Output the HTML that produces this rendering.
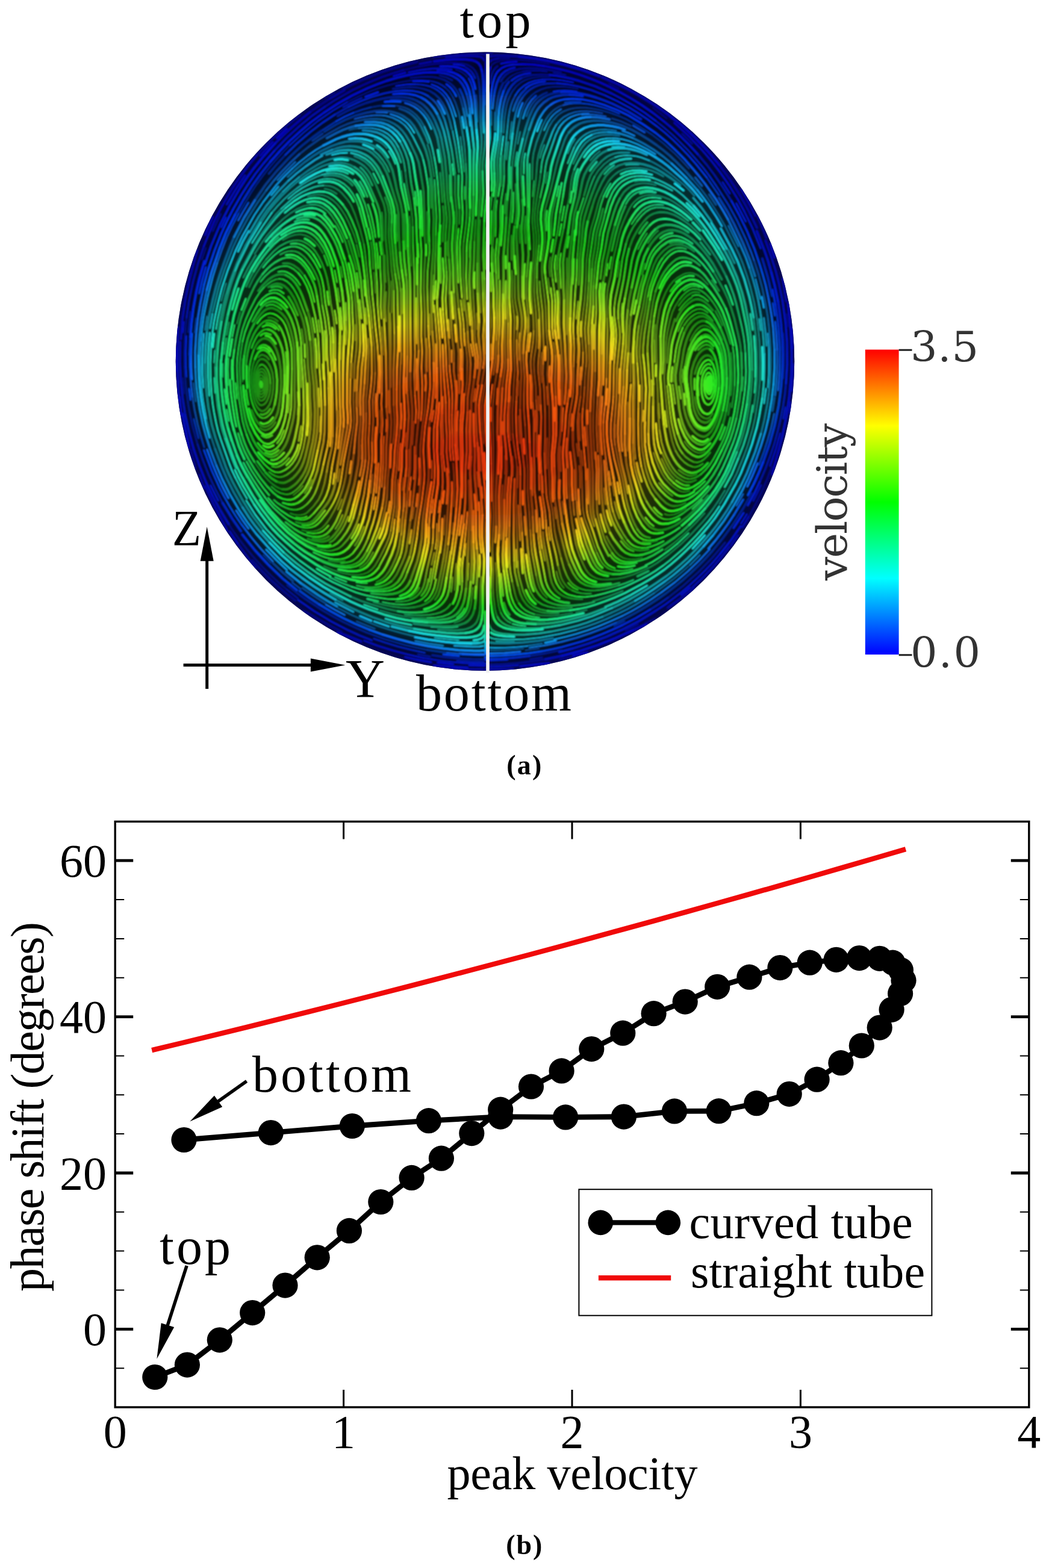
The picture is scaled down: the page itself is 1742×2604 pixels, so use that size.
<!DOCTYPE html>
<html lang="en"><head><meta charset="utf-8"><title>Secondary flow and phase shift in a curved tube</title>
<style>html,body{margin:0;padding:0;background:#fff;overflow:hidden}svg{display:block}</style></head>
<body>
<svg width="1742" height="2604" viewBox="0 0 1742 2604">
<rect width="1742" height="2604" fill="#fff"/>
<defs><clipPath id="disc"><circle cx="805.5" cy="600.2" r="513.7"/></clipPath>
<filter id="soft" filterUnits="userSpaceOnUse" x="284" y="78" width="1043" height="1043"><feGaussianBlur stdDeviation="1.00"/></filter>
<filter id="smooth" filterUnits="userSpaceOnUse" x="274" y="68" width="1063" height="1063"><feGaussianBlur stdDeviation="5"/></filter>
<radialGradient id="wall" gradientUnits="userSpaceOnUse" cx="805.5" cy="600.2" r="513.7"><stop offset="0.95" stop-color="#0a0e9a" stop-opacity="0"/><stop offset="0.98" stop-color="#0a0e9a" stop-opacity="0.2"/><stop offset="1" stop-color="#0a0e9a" stop-opacity="0.45"/></radialGradient>
<mask id="lic" maskUnits="userSpaceOnUse" x="284" y="78" width="1043" height="1043">
<g filter="url(#soft)"><rect x="284" y="78" width="1043" height="1043" fill="#333333"/>
<g transform="scale(0.25)" fill="none" stroke-linecap="round" stroke-linejoin="round">
<path d="M3094 1088l-6-88-5-56-24-142-12-55-20-61-20-43-21-34-28-28M2848 536l-40-4-40 0-48 4-47 8-47 10-54 14-54 17-52 19M2466 604l-81 35-79 39M1924 965l-45 46-43 47-52 61-40 51-37 51-40 60-82 138M1370 2781l23 93 35 107M3091 2626l11-95 2-128-3-48-10-87-3-56M2819 842l-24-42-31-37-18-15-19-14-21-12-23-9-46-11-56-3-64 4-55 10M2742 1507l-2-48-7-63-10-63-16-79M2707 1254l-6-39-9-80M2383 851l-32 4-31 8M2152 3761l59 26 61 19 55 11 32 2 24 0M2383 3819l31-5 30-12 25-19 21-24 36-62 39-79 21-52 10-39M2492 2475l-5-168-14-127M2417 1623l-26-101-33-98-22-52-11-21-18-26M2307 1325l-37-43-18-16-19-13-22-11-23-7-40-3M1868 1387l-33 35-35 44-66 91-39 60M1695 1617l-80 148-24 51-20 52-21 60-19 70-19 77-15 71M1497 2146l-20 126-13 120M1535 2928l35 98M1770 3371l40 50 49 53 46 44 43 36 45 33 41 25 51 24 45 15M2058 1360l-39 9-44 19-47 29-50 40-58 56-42 48-38 51-48 74M2006 3521l31 8 24 2 23-2 24-5 21-10 13-10 17-17 15-19 22-33 27-49 17-36 15-37 18-53 13-47 10-47 7-47M2303 3119l47-292 2-48-5-128M2347 2651l5-136M1768 1724l-34 45-31 47-24 41-24 51M1929 3410l23 8 24 4 23-1 16-3 15-6 13-10 39-39 34-45 20-43 19-62 15-78M1690 3068l50 73 20 24 27 30 24 21 19 14 21 12 23 8M3304 4098l-9-22-7-31-11-88-3-56 2-111-4-72M3272 3718l-2-72 7-152M3277 3494l1-80-4-120 3-176M3277 3118l0-136-3-144M3274 2838l-2-88 2-64 12-127 15-87M3400 1261l1-120M3401 1141l3-64 8-63 29-166 17-78M3458 770l15-46 16-36 17-27 27-29 25-20 36-18 38-12 40-6M3672 576l32-1 48 1 39 5 48 8M3802 4073l-79 13-63 5M3660 4091l-64-3-48-8M3447 4007l-15-28-10-30-20-86M3439 3729l-8-304M3431 3425l-3-80 2-104M3430 3241l4-120-2-40-5-40M3406 2883l-3-144 6-96 3-80 7-104-5-136M3414 2323l0-72 4-120-3-39-10-80-4-40 2-104-3-71M3433 2259l7-95 1-40-4-40-13-71-4-40-1-144M3633 3970l-28-29-20-34-13-38-10-47M3522 3521l-6-112-5-63M3511 3346l-6-80 1-144-11-144M3495 2978l-7-151M3470 1327l-9-160 0-48 2-40 4-32 8-39 21-85 18-62M3545 2197l-3-88-10-112-2-48 2-96 6-88M3538 1765l6-71 2-88-2-48-8-80 0-32 10-127M3546 1319l14-128M3560 1191l8-111 8-48M3576 1032l18-61 51-126 25-41 32-36 19-15 20-12 30-12 23-7 31-5 32-2 32 0 40 5M3929 720l55 10 62 17 60 21 51 22M4157 790l85 47 87 56 76 58 78 69M4483 1020l45 46 49 53M3561 2659l-2-88-10-96-3-56 2-39 13-79 3-40 1-72-5-112M3560 2077l-10-104-2-40 3-136 9-119 3-72-1-48-8-64M3554 1494l-3-48 3-47 10-72 22-134 6-48M3580 1630l0-64-10-88-1-40 5-55 14-71M3802 3922l-14-8-19-14-16-18-13-20-11-22-7-23-16-62M3727 3707l-32-124-11-55-13-128-17-94-3-48M3651 3258l-1-64-7-152M3643 3042l8-151-2-176-9-152M3640 2563l-4-80 6-96 0-48-13-135-4-152-7-72M3618 1980l-16-135-3-56 2-48 15-94 5-48 0-48-5-56M3616 1495l-2-48 5-48 10-38 29-100M3658 1261l38-164 13-46 42-121 14-29 13-20M4600 1189l57 67 38 51 32 47 47 74M4774 1428l40 69 65 129M4879 1626l31 65 24 59 26 76 23 76M4983 1902l27 109M5010 2011l20 118 15 143 4 128-2 136M5047 2536l-9 96-22 142-18 78-32 108M4966 2960l-24 67-49 119-32 64-43 77M4818 3287l-38 61M3716 2068l2-48 0-40-17-191M3771 1364l10-47 13-112 8-39 12-38M4815 3257l-42 68-36 53-33 45-36 43M4668 3466l-88 94-57 55-80 67-77 57M4366 3739l-48 29-43 21-67 27-61 19-47 9-64 6-40-1-23-4-16-5M3957 3840l-21-11-19-14-11-12-14-19-18-36-25-59-13-38-11-38M3825 3613l-25-142-7-56-6-55-7-144M3780 3216l-1-88-6-80M3773 3048l-3-56 2-64M3949 1173l26-41 38-41 38-29 36-17M4312 1066l29 14 42 24 39 27 39 29 86 71 34 34 32 36M3965 3672l-17-44-39-114M3909 3514l-25-67-11-55-3-40-7-224-15-135M3856 2635l5-112M3873 2340l-9-128 0-40 6-72 13-103 10-160M3893 1837l1-80 3-40 21-158 10-47 23-77M3951 1435l22-85 13-38 27-58 28-48M4041 1206l15-19 16-17 18-16 20-14M4110 1140l29-13 39-10 40-3 40 3 39 7 38 12 30 13 42 23M3883 2571l3-72 7-64M3950 3050l-10-191 0-72 2-64M3942 2723l3-88 6-88 2-80M4033 2115l-3-104 4-72 5-31 18-78 15-103 40-171M4112 1556l12-39 17-45 26-58 14-29 17-27 16-18 18-16 13-9 22-10 23-7 23-3 32 1 32 5 38 11 30 12 28 16M4473 1340l52 36 50 41 45 45 46 55M4381 2858l-9-119-3-136-4-64M4365 2539l-3-48 1-80-2-72M4361 2339l-1-112 5-72 15-94 21-69M4401 1992l22-52 24-41 25-31 25-21 41-24 15-6 16-3 16-1 16 2 29 11M4630 1826l14 8 19 15 39 41M4488 2995l-12-30-12-38-21-102-14-111-15-167-2-40M4412 2507l8-112 4-120 8-63 19-86 16-54 21-43 26-40M1239 2110l-7 72-6 88-2 80 1 80M4217 1207l31-6 32-1 32 3 39 9M4585 2263l18-36 17-27 16-18 19-14 15-5 16 0 23 9 12 10M3535 1192l3-128 6-47 19-70 42-112 22-43 18-26 16-18 18-17 19-13 21-12 23-8M3654 1950l-15-102M4179 1246l20-12 15-6 23-6 24-4 24 0 24 2 47 10M4927 2344l4 104M2664 2419l3-72M3345 882l6-96 11-71 7-31 11-30 13-29 12-21M3405 604l25-31 31-26 21-12 22-9 38-10M3542 516l48-6 64 1M4572 3763l-54 47-50 41-123 89M3213 2946l-12-175-1-72 4-40 38-213M3242 2446l8-63 3-112 7-104 0-40-2-48M3258 2079l-10-223-10-136 1-40 7-88M1224 2433l10 135 17 127 27 134 34 123M2221 616l-65 32M2244 4039l93 47 103 45M2440 4131l74 29 69 22 85 24 85 21M2145 1681l-24-42-31-36-31-25-29-14-31-7-16 0-24 3-38 12-43 22M2368 1612l-14-46-15-37-22-51-22-43M2295 1435l-30-47-25-31-29-27-34-22-30-11-32-4-32 3-38 9M1518 3481l40 60 43 58 44 56 52 61 49 53 51 51 52 49 55 47M3258 448l13-20 20-14 30-10 32-5 48-2 48 1 55 5 64 8M3568 411l79 14M2523 4055l77 22 78 17 72 8 88 3M3354 548l21-25 11-10 20-14 29-13 39-11M3618 4133l-64 1-56-5M3476 4309l-119 9-72 2-48-1M2360 2261l0-104M3159 2278l-5-48 1-96-6-64M3149 2070l-8-159M3141 1911l-1-56 2-56M3192 2077l-8-208-2-184 3-160M3185 1525l3-64M3327 4071l-8-22-6-23-8-56-4-47-2-96-6-88M2673 1216l-9-80M3066 973l-8-64M4680 3409l-59 65-80 79-61 52-64 48M5128 3100l-32 82-35 81-46 93-42 77M1366 1648l-26 75M2193 3941l84 46M3018 4137l30-10 28-16 22-22 13-21 12-29 7-31 10-104M2884 1173l-19-119-11-47-14-46M3599 2541l-6-47-1-40 1-48 6-64M2601 2076l2-144-4-64M4581 3261l-23 6-16 1-16-3-15-6-27-17-25-20-22-23-21-24M4416 3175l-17-27-21-43-21-52-15-46M1950 3288l37-31 25-30M3014 3365l5-136-4-88-5-64M2494 1946l-3-64-6-72M4188 2538l2-192M2547 2357l-11-184M4265 3707l-40 8-32 2-31-4-23-7M4139 3706l-27-17-22-23-40-60-22-43M2906 2981l0-120M3655 1836l-4-32-2-31 2-32 6-32M2245 3385l26-67M2263 2389l2-88 5-72M2732 1766l-7-112-1-152-4-64M4065 787l60 19 66 30M4339 717l89 68M1612 2384l-3 64 2 88M4081 3292l-14-87M4351 4109l-64 32M3921 1066l32-36 31-25M4557 3378l-49 28-30 12-31 4-16-2-15-5M2688 3367l2-88M3745 3905l-16-19-15-28-11-30-7-31M1213 2511l10 103M1596 2073l-22 77M3454 1615l-4-64 3-56M1749 3687l50 52M2571 985l-16-18-18-16-20-13-29-14M3021 3920l3-40 2-88 5-48M1302 2114l-10 95M1846 2134l-19-14-15-7-15-4-16 0M3102 509l-11-12-19-15-21-11-23-8M1501 1883l-32 116M2236 1288l-20-13-21-11-23-7-16-3M2400 3051l2-40-1-56M3579 4308l-87 12M4101 1839l13-103M2948 3553l2-72 4-56M3354 3148l2-48-1-72M3897 4052l-70 16M3439 955l16-79M4682 2997l-14 8-15 4-16-1-15-5-21-12-19-15-21-23-13-20M4046 557l64 32M1867 1520l-36 31-29 28M4851 2678l-14 79M3624 1216l11-71" stroke="#999999" stroke-width="8.8"/>
<path d="M3079 1614l15-111 5-56M3099 1447l1-64-4-96 3-112-5-87M2958 581l-20-14-28-15-31-10-31-6M2986 2428l-1-96-12-136M2958 1613l2-56 6-79 1-32-14-136-4-56M2890 3727l20-110 4-40 1-48M2462 713l-54 15-60 21M2233 806l-101 65M2692 1135l-7-47-7-31-13-38-20-44M2596 3527l25-166 3-160 12-95M2636 3106l4-112 13-103 6-96 1-40-4-88 0-120M2656 2547l9-240-1-144M2664 2163l-2-216-4-48-6-47M2139 1161l-38 14-43 21-48 28-39 28-44 35-41 38-44 46-37 43M2471 2938l8-144-3-136 12-111 4-72M2473 2180l-10-120-13-95-6-96-19-191-8-55M1640 3170l66 109 64 92M2130 3651l40 7 24 1 15-2 31-10 14-7 19-15 37-42 31-46 27-58 20-61M2321 1699l-27-92-18-45-36-71-39-60-15-19-17-17-20-14-13-8-15-7-23-6-16-1-24 1M2225 2195l-10-87-18-95-13-103-12-63-13-46-20-52-21-43-21-34M2097 1672l-15-19-17-16-19-15-21-12-22-9-16-3-16-1-24 2-23 5-22 8-43 23-19 15-24 21-48 53M2170 3135l11-63 22-94 5-39 2-40M2141 2030l-13-112-13-54-11-30-18-36-20-34-24-33-21-24-18-15-20-14-23-8-23-2-24 2-23 7-29 14M1855 1852l-23 4-29 13-26 19-24 21M1611 2269l-12 79-6 64 0 56 5 104M1803 3233l31 26 28 16 31 8 16 1 15-3 15-6 13-9 19-15 17-17 25-31 27-49M1788 3136l19 14 21 12 22 7 16 0 16-4 22-10 19-14 19-15 16-18 14-20 12-20 13-30 18-61 16-86M3375 2148l-6-168 5-128-3-120 1-72M3372 1660l4-72 18-191 6-136M3636 4058l-47-10-37-16-19-14-12-11-11-12-13-20-11-21-12-30-23-84-9-48-3-63M3427 3041l-15-103-6-55M3800 4036l-56 4-56-2-47-9-38-13-34-21-22-23-21-34-15-37M3468 3537l-13-192M3562 3822l-29-157-5-56-6-88M3488 2827l-8-104 0-96 4-120-7-112-1-48M3538 2675l-2-120-10-112-1-40 3-39 13-95 4-72M3565 3034l0-136 4-119-8-120M3695 828l26-30 24-21 35-19 38-13 39-6 40-1 48 4 55 10M3591 2691l-4-112-12-112 0-40 3-47M3578 2380l9-80 1-64-6-160-14-135-2-96M3926 3943l-32 1-32-3-31-7-29-12M3617 3011l4-104 0-160-7-160-9-104 2-64M3612 2323l-9-263-14-119-5-72M4110 3889l-85 23-40 7-31 3-32 1-32-3-24-6-22-8-21-12-19-14-16-18-13-20-11-21-18-45-19-69M3671 1854l-8-64 2-48 40-212 16-119M3701 1789l-1-40 5-40 16-86 24-110M3772 2928l11-167 19-110 5-40 3-64 0-112M3833 1724l11-119 9-128 5-40 13-46 51-152 14-37 13-29M4084 3789l-16-3-22-8-14-8-19-15-11-12-13-20-24-51M3848 2993l-9-96-3-96 4-55 16-111M3871 2714l8-79 4-64M3893 2435l2-32 0-40-3-63-6-80-1-40 5-56 12-119 9-136M3943 1900l12-152 18-102 9-80M4169 3589l-27-39-32-56-20-43-18-53M4029 2515l6-320-2-80M4158 1620l12-38 16-37 19-35 27-40M4295 3331l-18-36-20-52-23-69-15-54-6-31-5-40-4-56 0-48M4221 3051l-6-80-1-192M4655 3151l-20 14-21 10-23 6-16 1-24-6-21-11-20-13-24-21-19-26-17-27-25-50-15-37-16-54-13-79M4669 3081l-28 16-23 6-16-2-30-12M4572 3089l-26-18-23-23-19-25-16-28M4514 1989l20-25 23-22 20-14 22-8 16-1 24 4 21 10 26 19 23 23 25 31 22 33 20 35 17 36 20 52 21 61 18 61M4718 3005l-20 25-23 22-20 13-23 7-24-3-28-15-26-19-21-24M1992 766l-87 69-73 64-67 68-59 65M4505 2201l18-44 20-35 26-30 31-25 29-13 24-2 23 7 26 18M3050 1145l-23-167-21-110M3970 3001l-8-152 1-72 7-143M2886 1857l3-112M2889 1745l6-104 0-80M3349 1168l-1-72 2-39 28-279 8-47 8-31 11-30 18-36M2228 3513l25-41 22-51M1278 2636l14 87 20 94 18 69 26 85M2996 3931l6-40 4-56M3224 382l4-16-4-7 15-3 32-1M4345 3940l-67 43-55 33-56 31-57 28-88 40-67 27-60 21-69 21M3246 1592l6-176 18-134M3639 2688l-7-120M1312 2952l33 98 41 105 44 94 48 92M2629 3997l32 0 24-3 23-4 23-8 15-7 20-13 17-16 15-19 14-29 9-31 16-86 31-133 6-39M1904 3916l75 60M3234 2244l7-112-6-128M2868 3179l2-55-3-64M3474 475l31-4 40-2 40 1 48 5M3415 4262l-64 0-56-2M3601 4276l-95 14M3393 4138l-21-11-18-16-15-18-12-22M3083 1140l-17-167M3216 364l-16-4-32-2-120 5M3048 363l-167 16M4085 2908l-1-40 2-48M2690 2964l8-88M4536 2540l-4-39 4-48M3815 3423l-4-40-3-48M4542 2164l23-33 22-23 26-19 14-7 16-4 24 2 22 9 25 19 21 24M2274 1842l-12-71M2190 3604l21-12 11-10 36-44 18-26 15-28 22-52M4839 1500l67 136M3813 981l15-28 15-19 16-18 18-15 20-13 22-11 23-7 23-6M3965 864l24-3 32-1 40 3 31 5M2879 1899l3-72M3677 483l79 15M2938 3240l2-40-1-47M2585 1141l-16-37-26-40-31-37-30-26M1941 3870l57 44M2638 1602l-4-72-1-104M2688 4082l56 4 56 1 56-3 39-7 31-9 28-15 19-15 21-25M3018 1486l0-40-2-39M2650 3534l6-87M3287 865l0-64 2-56M4512 2060l19-26 21-24 24-22 20-13M3239 922l-2-72M4238 1655l25-50 34-54M4649 3688l-68 68M3538 1305l9-103" stroke="#bdbdbd" stroke-width="8.8"/>
<path d="M2306 678l-96 57-99 69-93 75-94 86M1585 1419l-45 85-34 72-32 82-32 90M1335 2264l-4 72-1 64 5 136 6 64 8 63 21 118M2966 1805l-8-104 0-88M2542 4000l47 9 39 5 40 2 32-1 24-4 31-8 29-12 21-13 17-16 11-12 12-21 10-22 10-38 25-142M2927 3361l12-111 3-48-3-72-9-111M2885 1046l-13-62-13-46-14-38-26-58M2905 2443l-2-168-18-247M2190 3835l72 34 75 29M2658 3886l11-12 14-20 11-21 11-30M2845 2163l-7-256 2-103 13-136-1-64M2812 1063l-9-30-13-30-46-93-29-47-26-31-19-15-19-14-43-21-47-13-31-3-24-1M2506 765l-32 2-40 5-39 8-39 10M2757 2627l-5-136 5-152-3-96-1-208M2753 2035l0-200-10-216-1-112M2645 975l-20-34-26-31-24-21-28-16-29-12-47-10-40-2-48 2M2620 2227l-4-184 0-120M2264 3741l31-3 32-7 21-10 19-15 16-18 27-40 18-35 16-37M2536 2611l2-136-2-96-6-96-10-111M2446 1433l-22-77-31-74-27-48-15-19-17-17-26-19-21-12-22-9-23-5-24-3-24 0-24 3-31 8M2386 1382l-20-53-23-42-28-38-30-27-34-20-38-12-40-2-24 2-23 6M2126 1196l-31 10-29 12-57 30-46 31-49 41M2148 1232l-31 3-31 8-45 18-36 17-34 21-32 24-71 64M1464 2392l-2 56 1 63 5 80 9 80 11 71 14 71 12 46 21 69M1570 3026l32 73 38 71M2388 3418l30-133 25-166M2443 3119l8-71-3-128 6-104M2227 2387l0-144-2-48M1820 3321l24 21 27 17 29 14 22 8 24 5 24 0 23-6 21-11 25-20 22-24 14-19 16-28 15-37 17-53 13-46 12-55M2032 2108l-45-120-17-36-20-35-19-25-24-22-28-15-24-3M1753 1909l-26 31-31 47-36 71-28 66-21 61-13 54-13 71-9 71M1576 2381l-2 48 1 48 5 96 8 80 23 142 12 46 15 46M1981 1814l-30-26-28-15-15-5-16-1-32 4-30 11-34 21-35 32-31 37M2031 2891l6-80 1-88-5-176-13-160M1779 2188l-8-1-16 3-20 13-12 11-15 18-12 21-14 29-11 30M1687 2321l-13 38-10 39-7 39-3 40M1654 2477l1 80 6 48 6 39 8 31 11 30 14 29 13 20 16 17 15 7 16-2 14-7 18-15 10-13 11-21 11-31M4355 802l50 40 60 52 52 50 51 51 53 60 52 61 38 51 46 66M4757 1233l82 128 58 105 61 130 33 82 21 60M3311 2361l0-64 5-72M4694 1178l82 119M3375 2388l-2-104 2-136M3548 4080l-30-11-28-15-24-21-19-26M3402 3863l-12-63-6-64-2-160 2-80M3511 3901l-13-46-11-55-8-80-5-64M3455 3345l2-192M3430 2667l3-88 7-104-7-128 0-88M3588 3664l-12-87-10-192-15-127-1-152M3550 3106l-4-104 1-215-9-112M3592 1145l7-63 11-47 59-157 10-22 16-28M3626 3456l-6-63-20-127-5-136M3566 1845l1-80 13-135M3588 1312l24-109 12-96 8-39 60-173 21-44M3706 3755l-12-63-27-116-7-48-4-48M3656 3480l-6-80-17-86-4-32-11-215-1-56M3607 2419l5-96M4207 3853l-52 21-45 15M3685 1957l-14-103M3745 1513l15-95 11-54M3814 1128l12-29 15-29 29-48 18-26 27-29 19-15 21-12M3810 2435l4-120-3-64M4087 1045l23-7 31-5 24-1 32 2 32 4 31 8 52 20M4202 3779l-31 8-31 4-32 1-24-3M3861 2523l11-119 1-64M3896 3313l-3-128M3911 1869l5-144 25-174 7-31 23-77 21-85 18-53M3941 2035l0-96 2-39M3982 1566l6-31 20-70 13-54M4340 1183l37 15 36 17 35 19 34 21 56 45 69 67M3953 2467l1-72-1-200 8-136-2-112 1-32M4072 3398l-10-39-8-55-37-318-8-88-1-88M4080 2044l8-63 29-133 17-127 24-101M4232 1470l30-37 29-27 21-13 14-7 31-8 40 0 39 7 37 15 49 28M4522 1428l51 39M4911 2101l18 78 12 63 6 48 4 56M4775 3155l-25 42-23 33-24 31-32 36-28 28-30 27-76 58-27 17-22 11-22 8-16 3-24 1-16-2-15-6-21-12M4374 3430l-17-16-22-24-19-25-21-34M4204 2945l1-64-2-216 5-127-2-128M4354 3316l-32-46-21-43-22-60-19-69M4852 2774l-14 54-20 61-22 51-25 50-31 57-25 40-31 37-29 27M4484 2682l-16-127M4560 2518l0-32 3-31 17-79 18-52 12-22 13-20 16-18 18-16 13-7 15-6 16 2 15 7 12 10 16 18M4533 3011l-18-26-17-36-15-46-13-54-10-47-9-64-19-175M1353 1637l-38 114-34 123-26 126-16 110M4351 1212l59 24 56 30M2967 666l-18-27-16-18-24-20-21-13-29-13-31-8-31-5-40-3M2895 1561l4-120-6-104-3-88-4-55M3313 1854l-4-144 10-127M3319 1583l6-80-1-96 2-40 5-48 14-87 4-64M4014 1157l33-35 32-24M3290 1571l3-64 0-96M3293 1411l3-40 5-39M3742 698l39-9 39-4 40 1 48 5 47 9 54 15 53 18 52 21M3826 4184l-108 27-126 24-112 12-103 2M3377 4249l-56-2-40-4-16-4-14-6-12-11M2892 3646l9-64 2-103M1478 2416l0 88M2838 4105l55-2 48-8 37-14 20-13 12-11 16-18 12-21 17-45 12-54 3-56M2994 1339l-5-56-2-120M1870 2055l-26-18-30-13-24 0-22 9M4157 1356l17-28 15-18 18-16 20-13 22-9 31-7 24-2 32 3M4342 2849l-2-128 1-64M4196 1488l22-33 25-31 22-24 26-19 29-13 23-6 32-3 31 3M3838 3918l-22-10-13-8-18-16-11-12M2944 2923l-4-112 1-64M3823 3320l-5-96-1-104M4936 3282l-43 77M4135 2208l-6-112 2-40 4-40M1806 3098l24 5 16-2 15-6 14-8 19-14 27-29M3081 2185l-3-48-10-80-7-63M3578 2315l3-64-3-128M3208 1944l-5-136M2277 2708l-1-216 2-96M3087 3691l7-80M2483 4243l76 26 84 26 93 23 86 19M3865 763l32-3 40 1 48 6 39 7M3771 1085l42-104M3844 1414l32-99M2888 4237l80 9 79 7M3392 1253l2-144M2748 3183l5-64 1-152M2536 3235l10-160 0-112 4-64M3654 3589l-6-39-4-48M4598 1966l23-7 23 2 29 14 31 26M3607 3274l-5-112M5100 2215l7 96 1 72-1 104-6 87M5019 1854l33 132M2178 1764l-25-68M3051 4339l88 5 72 0M1851 1575l-36 32-27 30M4542 1929l26-18 23-9 23-2 16 2 15 6M4868 2307l8 56 4 88 1 64-2 56M4209 3662l-22-8-21-13-17-16-25-31M1326 3153l31 91M2851 3864l14-87M2126 2869l4-104M3614 865l24-51 22-33 16-18 18-16 33-22M1913 2740l6-48 1-72M3431 3770l-3-120M1427 2329l-5 79M3433 2189l3-48-2-40M4157 1095l39-4 48 2M2125 2205l-10-79M3440 1198l0-88" stroke="#dedede" stroke-width="8.8"/>
<path d="M1381 1964l-18 86-12 63-9 71-7 80M3002 2755l3-88-1-48-5-64-11-87-2-40M2973 2196l-8-103-5-104 7-136-1-48M2915 3529l2-72 10-96M2930 3019l1-112-3-88 5-120-1-64M2932 2635l-8-264M2917 1548l5-80-1-56-14-207-11-95-11-64M2348 749l-59 26-56 31M2147 967l-48 28-53 37-56 44-48 43M1563 3172l37 71 40 69M2521 3234l10-160 1-56M2520 2172l-12-152-3-128-8-112-3-55M2494 1725l-4-64-12-79-8-48-24-101M1805 1414l-63 92-68 108M2511 2571l4-88-1-72M2514 2411l-7-120-14-127M2493 2164l-9-104-11-103M2457 3193l15-135 1-40-2-80M2454 2816l1-56-2-96 13-119 4-64-1-136-1-48M1760 3303l30 39 26 30 35 33 37 31 31 24 34 21 29 14 23 7 24 4 16 0 23-3 23-8 20-14 17-17 44-56M2172 3408l27-40 16-28 17-36 14-37 11-39 8-39 19-127M2341 2076l-2-72-7-64-23-142-9-39-11-38M1781 3308l43 48 43 36 53 35 22 10 22 9 16 4 24 3 16-1 15-4 21-11 29-28M2210 2899l0-216-5-192M2082 1733l-19-26-15-19-17-16-19-15-22-11-15-5-15-3-24 0-24 5-23 8-21 11-20 13-25 20-23 22-28 29-25 31M2182 2579l0-72-9-160-2-120-14-111-16-86M1638 2887l17 45 17 36 20 34 28 39 36 43 23 22 26 20 22 10 23 2 16-3 29-14 25-19 22-23 18-27 18-35 13-38M1984 2175l-11-39-16-45-17-36-20-35-19-25-22-23-19-15-22-10M1838 1947l-16-2-16 2-15 4-15 7-13 9-18 15-26 31-32 55-35 72-25 67-16 62M1908 2840l17-70 9-63 5-256M3266 3329l-4-248M3252 2778l-1-48 2-40 18-135M3474 3656l-6-119M3457 3153l-2-64-16-111-8-95-4-128 3-88M3595 3130l-6-111 6-248-4-80M3713 851l13-20 21-23 26-20 21-12 30-11 23-6 32-4 32-1M3721 1411l18-102M3955 940l38-14 39-7 56-1 47 7 47 13 52 20 64 32 55 34M3811 2251l-3-48 0-48 14-231 8-88 3-112M4084 3775l-22-9-21-12-17-17-13-20-40-87-29-92-34-98M3908 3440l-7-31-3-24-2-72M3871 2890l-4-104 4-72M4010 1305l25-51 21-34M4408 3595l-43 21-38 14-31 8-32 2-31-5-23-9-19-13-22-24M4021 2675l8-160M4074 2635l4-208 14-159 2-40-2-40-12-96 0-48M4241 2715l0-144-5-120-4-48M2810 4371l134 21 135 13M3231 4409l-8 0 8-1M1706 1032l-56 68-52 71-45 66-42 68M4394 3935l-73 50-61 38-62 36-64 33M3103 1988l-7-152 3-104 0-64M1468 2022l-21 93-12 71M3058 1053l-16-119-25-133-21-69-15-37-14-29M3423 634l13-20 15-19 30-26 34-20 38-13 55-9 56 0 72 7 71 13M2886 3846l33-181M3730 4264l-102 22-111 17M1259 2357l1 72 4 72 6 71 8 64M4943 1401l56 116 54 133M3033 2722l3-112-1-48-2-32M3503 4292l-71 7-72 4-72 1-48-2M1885 1949l-26-18-15-5-24-1-15 3-15 7M2866 410l-79 15M4574 3542l-76 71M4286 1788l21-69 13-29 12-21 19-26 22-23 30-27 20-12 15-7 23-6 16-2 24 3 23 6 22 10 28 16 26 18M2874 3609l3-40 1-64M4027 1831l10-79M1994 1893l-17-26-16-19-17-16-20-14-21-11-16-4-16-1-23 4M1637 3065l35 63 39 60 37 52 40 50M1234 2440l4 63M2534 2116l-5-79 3-136-7-128M2954 3130l-12-119 2-88M2941 2747l1-64-1-48M4047 1786l6-40 8-39M2494 1577l-8-55-15-71-12-46-15-46M2149 2523l-6-104M2767 2283l-2-48-1-256M1353 2216l-6 88-3 87 1 96 6 88M3207 2447l5-32 3-32-6-152 7-103-6-104-2-80M1854 2194l-21-25-19-14-23-8-16-2-8 2M3236 3532l3-112-2-64M2498 2768l-4-96 4-56M3296 1825l-5-120 11-120M4923 1257l54 98 40 79M1363 3228l53 116 86 163 8 23M2277 1608l-22-51-30-56M3035 4102l13-10 17-17 10-12 11-21M2238 1875l-15-79M2823 3994l19-15 11-12 17-27 15-37 12-55M2719 3256l11-87M3907 3347l0-80-4-152M3479 1154l1-72 3-32 6-31M2879 2075l-4-80 4-96M3506 2209l2-56-1-48M1558 2158l-16 79M3732 1466l16-94M3401 1477l8-87 1-112M1650 1346l-37 62-31 56M1966 3437l24 4 16-1 16-2 15-6M3090 4446l120 0M3140 586l-13-38-14-28M2913 3404l9-79M3000 2406l0-80M2040 3539l40 5 24-2 16-3 15-6 13-8 18-16 16-18M4330 2629l2-48-3-56M3726 1914l-8-152 1-32 7-47M4800 1211l48 74M2226 3835l74 29M3583 3255l-2-104M2698 2613l-2-48 1-56" stroke="#f5f5f5" stroke-width="8.8"/>
<path d="M1442 1748l-29 92M1413 1840l-32 124M3013 3058l-8-87 0-80-3-80 0-56M2995 3058l-7-72 0-104-5-104M2983 2778l1-120-6-71M2978 2587l-12-120-6-168-18-239M2924 2371l-2-104-18-231-1-56M1636 3325l60 94 73 96 65 70 88 83M1922 3668l68 55 117 84M2107 3807l55 33 49 27 109 50 44 18 39 12 31 8 54 11M2488 3966l87 13 32 1 32 0M2849 3503l4-64 8-88 21-126 5-56 1-64-7-135M2881 2970l1-120 16-119 6-80 2-104-1-104M2337 3898l46 14 47 11 47 5 64 1 40-4 31-9 28-15 18-15M2705 3803l32-82 15-54 17-94 14-128 19-118M2802 3327l15-127M2817 3200l2-48-2-64M2817 3088l-5-88 2-56 10-111 19-119 14-143 0-56M2857 2515l-3-80 0-112-7-96-2-64M2852 1604l-3-56 2-88-5-104-1-104-5-39-17-103-11-47M2795 2794l7-71 3-160-5-120 4-104-2-48M2802 2291l-4-56 1-160-5-144 3-159M2797 1772l2-104-7-104-1-48M2760 2810l4-79-7-104M1942 1119l-57 56-49 53M1836 1228l-88 114-58 86-79 139-45 94M1566 1661l-53 134-38 114-24 93-19 86-11 54-9 64M1412 2206l-9 87-5 120 1 96 7 112M1406 2621l7 64 9 55 14 71 13 54 17 53 56 159 17 44 24 51M2444 3576l33-98M2477 3478l15-55 11-54 11-72 7-63M2532 3018l0-88 9-119-8-128 3-72M2082 3669l51 23 30 11 31 8 24 4 24 1 24-2 15-3 16-5 21-10 25-20 34-45 23-42M2400 3589l22-51 30-91 13-63 15-95M2480 3289l6-48 14-183-1-128 9-112-1-72M2507 2746l-3-79 7-96M2473 1957l-5-80-11-111-5-96-4-32-14-71-48-185M1617 3073l26 49 37 62 39 60 41 59M2284 3062l43-219 4-48-2-48M2329 2747l-4-72 2-144 4-104 12-159M2343 2268l3-88-5-104M2085 3409l41-49 23-33 18-35 16-46 8-39 15-111 23-118 5-47 4-72M2238 2859l2-64-5-152M2235 2643l-3-152M2232 2491l-5-104M2205 2491l-8-136-2-120-16-127M2179 2108l-18-94-11-103-9-47-9-31-12-30-18-36-20-34M2148 3087l27-117 8-55 2-48 0-168-3-120M1991 2979l9-39 7-40 10-103 1-104-4-152-4-64M2010 2477l-6-71-2-88-2-40-7-56-9-47M2134 2659l-5-120-7-96-2-80M2120 2363l-6-120-10-79-10-63-22-94-15-54-20-52-26-49-30-38M1711 2942l26 31 25 19 15 6 16 2 8-1 15-6 20-13 11-11 24-32 17-36 20-61M1939 2451l-1-104-2-32-7-39-9-39-14-46-11-30-16-28-16-18-25-20-21-10-24-4-23 6-20 13-18 16-24 32M3252 3664l-1-64 5-176M3256 3424l-7-192-15-271M4063 621l71 37 76 44 74 48 71 52M3262 3081l-2-95-4-80-4-128M4016 632l87 41 78 42M4181 715l54 33 67 45 64 48 50 40 54 48 51 50 50 52 53 60M4624 1091l70 87M3384 3496l3-152 3-87M3390 3257l9-112 1-40-5-64-18-135-4-40 0-111 6-88M3717 3976l-21-12-19-14-22-24-13-21-9-21-8-23-13-71M3612 3790l-24-126M4778 3363l-31 46-39 52-84 96-84 86-90 79M4450 3722l-44 34-53 37-41 25-49 26-72 35-44 20-68 24-61 18M4018 3941l-70 17-63 8-56-3-47-11-15-6-20-12-13-10-17-17-13-20-8-14-8-22-7-23M3681 3828l-17-103-28-141-6-48-4-80M3648 2196l-3-184M3645 2012l-25-198M3687 2196l-2-72 4-111-4-56M3893 3185l-2-64-5-56M3886 3065l-15-175M4021 1411l20-69 25-59 12-21 19-25 17-18 18-15 21-12 22-10 23-7 31-5 32-1 24 2 32 5 23 7M4008 2810l3-48 10-87M4516 3504l-33 23-34 20-36 18-29 12-31 9-32 4-24-1-23-5-21-11-13-10-15-19-14-20-14-28-19-44-28-84M4150 3368l-13-54-19-110M4118 3204l-8-40-30-116-14-78-8-56M4058 2914l-1-48 1-56 13-127 3-48M4951 2346l4 120M4955 2466l-2 63-7 80-13 87-15 79-15 62-18 61-16 46-36 89M4833 3033l-29 66-29 56M4376 1802l31-56 30-37 18-17 20-13 14-7 16-4 16-1 23 2 23 8 22 10 39 27 40 40M4668 1754l40 50 47 74M4260 3098l-12-72-6-71-3-136 2-104M4743 2782l-16 28-15 18-12 10-15 6-16-2-22-9-19-15-10-13-19-35-14-45-5-32-7-80-13-95M1979 3985l105 73M2084 4058l117 71M2201 4129l106 55M2419 4256l90 34 99 31 100 27 102 23M3079 4405l88 4 64 0M1511 1305l-43 77-44 86-38 87-33 82M3582 4103l-47-7-31-8-29-13-27-19-21-23-16-28-14-38-9-39M4715 3648l-71 76-75 72-85 72-90 67M4134 4092l-80 36-81 34M3973 4162l-68 25-76 24-70 19-78 18M3099 1668l3-56 17-143 3-88M3069 1979l-11-144-4-192M3054 1643l3-48 13-103 4-80-7-119 3-96 0-32-12-112M2757 559l-56 2-71 10M2922 1624l1-72 4-56M4783 3681l-47 55-50 52-51 50-53 49-55 47-57 44-51 38-67 44M4479 816l94 86 89 93M4662 995l67 79M4729 1074l58 76 55 79 59 95 42 77M3520 1657l-9-168 5-96 2-176M3518 1217l0-128M2089 2006l-13-54-12-39-19-43-24-42M2092 2208l-16-95M2511 1783l-3-96-9-71M3029 773l-20-61-22-52M2987 660l-22-33-27-29-34-22-37-15M4498 3613l-56 45-65 47-47 30-43 21M2518 3764l45-85 34-81 9-31 7-31 10-87M3044 1878l-8-208M3036 1670l1-64 9-87M1354 2990l51 134 53 117 30 57 35 62 42 68 36 53M1601 3481l63 83 72 86M1736 3650l77 81M5019 2513l-7 96M2627 1088l-19-44-24-41M2236 2149l-6-48-7-39M3070 3863l-1-72 2-40 28-271M3099 3480l6-79M2752 882l-17-28-14-19-16-18-18-15-20-14-29-15-45-15M1237 2232l-4 104 1 104M3012 1162l-8-72M2525 1773l-1-72M4211 1376l15-18 18-16 21-13 22-9 23-6 24-2 24 1 32 5M4342 3495l-25-20-30-37M3698 1306l14-70M3087 2296l-4-47-2-64M2425 1965l-8-104M1979 2756l4-72-4-80M3054 3884l-1-104 8-71M2307 1015l-48 2-54 12M3443 4419l-103 8-104 3M1501 1445l-31 65M3693 1872l-9-96 1-32 7-47M3675 2248l-7-71 0-88M3668 2089l0-88-9-88M2892 2645l5-112-3-248M3309 1303l9-56 4-39 1-40-1-72 2-40 19-151M4134 869l38 13 43 20M2164 4016l62 36 64 34M4891 1351l63 120M2868 3406l10-88M2768 2592l-3-128 3-80M4683 3196l-35 33-38 28M2865 857l-17-37-15-28-18-26-22-24-18-16-26-18-28-14-31-10M3141 2364l-14-78M2664 2848l4-80-4-88M3106 3853l5-112M2868 2799l12-71M1220 2138l-6 71M1398 3225l51 100M2621 705l-40-2-40 1M2213 3215l9-71M3240 736l7-120M3715 1565l15-78M3805 1887l5-64 2-104M2418 4017l91 32M4479 2407l10-80 8-39 21-69 18-44M3491 4159l-47-5-39-10M5250 2671l-4 72M1565 2545l9 103M2367 3867l39 6 32 1M4271 2799l3-72M2512 1216l-32-64M2998 4439l88 2M4961 3417l-38 61M2566 2867l2-40 0-40" stroke="#ffffff" stroke-width="8.8"/>
<path d="M3199 2555l24-142 2-32 0-32M4218 3992l-99 53-117 52M3249 4154l-6-24-4-31-9-160 0-56 8-112M3188 1070l9-79 2-48-1-40-5-72M3193 831l-2-48 0-112-4-80-8-63-12-38M3167 490l-12-21-10-13-26-18-22-10-23-5-48-5-72 0-95 10-87 16-93 22M3106 2204l-2-63-14-112-13-191 0-176 2-48M2330 3963l66 28 76 25 100 29 70 15M3047 2052l-16-175-7-200M3024 1677l-1-72 10-111M3033 1494l1-80-12-128 1-96-2-40M1896 1028l-54 59-57 67M3014 2412l1-48-1-32-14-136M2482 4000l69 18 55 11 56 7 48 2 47-5 39-9 37-16 26-18M2859 3990l16-18 13-20 10-22 10-30 26-125 13-71 14-103 5-56M2966 3545l4-96 14-200 0-48-4-63M2796 3113l-4-96 1-56 13-128 16-102 6-112M2828 2619l5-80-6-104 2-112-7-104 0-136M2822 2083l-7-167 2-104 10-144-1-40-5-56M2821 1572l-1-112-6-184-4-31-20-119M2790 1126l-9-47-16-45-45-94-24-41-24-32-29-28-27-18-36-17M2580 804l-23-7-31-5-24-2-40 0M2462 790l-48 5-55 12-45 14-52 22-77 43-68 42-72 51-56 45M1768 1265l-60 85-60 95-64 119-37 80M1547 1644l-54 142M1493 1786l-40 122-40 163M2600 3861l16-18 18-26 35-72M2669 3745l18-45 11-38 18-127 10-79M2762 3026l2-72 16-175M2611 2946l7-63 3-64-1-48-5-80M2616 1923l-3-40-12-87-7-112-11-103-1-40 3-88 0-40M1475 2126l-22 142-12 143 0 104 12 144M1453 2659l11 79 17 86 17 62 31 91M1529 2977l39 105 20 44 26 49M2551 2121l-3-48-1-40 7-128-5-96-1-64M2548 1745l-2-56-10-79M2354 1110l-29-14-30-10-32-5-32 0-31 4-31 9-30 11-43 22M2096 1127l-61 37-65 47-49 42-51 50M1870 1303l-43 47-36 43-28 39-31 47M2527 3509l27-109M2554 3400l10-47 6-48 6-127 10-96 2-104 8-96M2596 2882l3-79-8-120-3-224 1-96M2589 2363l-4-200M2585 2163l-4-112 5-104 0-48-9-95-4-104-12-120M2561 1580l1-160-6-39-8-31-46-111-38-79-13-20-15-19-17-17-19-14M2400 1090l-28-17-21-10-23-8-23-6-24-2-24 0-47 7-31 8-23 9-43 21-68 42-58 43M1880 1273l-59 65-46 55-36 53-50 82M1689 1528l-60 104-55 116-43 112-30 99M2432 2746l-1-88 10-111M2441 2547l9-208-4-88M2264 3391l43-130 15-54 10-55 19-142M2352 2515l3-88 12-103 3-72 0-88-8-136M2362 2028l-8-87M1693 2385l-13 38-8 39-3 40 0 39 5 48 8 48 11 38 14 28 16 19 13 8 8 1 8-2 7-4 13-10 18-26 11-30 9-39 5-39M1815 2581l1-56-6-48-13-38-11-21-10-13-11-11-14-8-16-2-7 3-12 11-4 7-17 36M1695 2441l-8 31-4 32-1 32 3 40 7 39 8 31 9 22 14 19 7 4 8 1 15-5 12-11 9-14 12-29 6-23 4-32 0-32M1726 2427l-11 12-13 29-5 23-3 32 1 40 6 39 9 31 12 21 5 6 8 2 8-2 13-9 12-21 9-30 4-32-1-40-5-31-5-15-8-15M1762 2467l-10-12-7-4-8-2-14 6-12 21-4 15-4 24 0 48 4 23 5 24 6 15 10 13 7 2 8-3 11-11 4-7 10-30 3-40-3-32-11-30-10-13-6-4-8-1-7 5-5 6-7 14M1714 2494l-5 32 1 39 7 32 10 21 8 2 7-4 6-5 5-7 7-23 2-31-3-24-5-15-9-14-6-5-7-2-7 5-4 7-6 23-1 24 5 31M1719 2580l6 15 6 6 8-3 6-5 3-7 4-15 1-24-3-16-8-14-6-6-7 2-6 15-1 16 3 24 2 8 4 6 7-4 3-7 1-24-6-14-8 2-2 8 0 16 6 15 6-6 2-7 0-16-3-8-6-5-5 15 2 16 2 7 6-5 2-8 0-8-4-7-7 3 0 8 4 16 5-6-1-16-6 4 2 16 6-6-1-16-7 4 0 8M1729 2557l7 5 2-8-2-8-5-6-1 16 1 7 4-6 0-8-3-8-1 16 6 5-1-16-4-7-2 16 5 6 2-7-2-8-7 4 3 16 4-7 0-8-3-7 0 16 3-8-2-7-6 5 1 8 2 8 8 3 2-16-3-15-6-6-5 16 2 15 2 8 6-5M1736 2566l2-16-4-8-7 4 0 8 4 15 5-6 2-8-2-7-4-7-1 16 5 6 1-8-1-8-5-6-1 15 5 7 2-8-2-8-7 4 1 8 2 8 5-6 2-8-2-8-4-6-2 16 5 6 2-8-2-8-7 4 1 8 2 8 4-7 0-8-3-7 0 16 6 5 0-16-4-8-7 4 0 16M1727 2560l2 8 7 2 3-15-1-8-4-7-7 5 0 8 4 15 5-6 2-8-2-8M1736 2546l-4-6-2 7 0 8 5 7 2-8-2-8-7 4 3 16 4-7 0-8-3-7 0 16 3-7-2-8-6 5 3 16 8 3 2-16-3-15-6-5-3 7-2 16 4 15 6-5 2-16-4-7-7 3 0 8 4 15 5-6 2-7-5-15-1 15 2-8 1 8 0-8-3-7-1 16 5 6 1-8-1-8-7 5 0 8 7 4 1-16-3-7-7 4 0 8 4 16M1731 2569l6-6 0-8-2-8-6 4 2 16 6-6 0-8-1-8-7 5 0 7 7 5 2-8-2-8-4-6-2 16 1 7 4-6 0-8-3-8-1 16 7 5 0-8-1-8-4-7-2 16 5 6 1-7-1-8-5-7M1731 2539l-2 16 2 8 7 3 1-8-2-15-5-6-2 7 1 16 6 5 2-8-2-16-6-6-3 16 3 15 5-6 2-7-2-8-4-7-3 8 1 16 7 3 2-8-2-15-5-6-4 15 3 16 5-6 2-8-2-8-4-6-2 15 1 8 4-6-1-8-3 7 5 6 1-7-1-8-7 4 2 16 5-7 0-8-3-7M1733 2544l-1 16 3-8-1-8-6 6 1 8 2 8 4-7 0-8-3-7-1 16 7 4 1-8-2-15-5-6-3 15 2 16 5-7 0-8-4-7 0 16 3-7-1-8-6 5 3 16 4-7 0-8-6 6 2 8 5-7 0-8-4-7 0 16 3-8-3-7-1 8M1731 2552l1 8 3-8-2-7-6 5 3 16 7 3 3-16-1-8-2-7-6-6-5 16 2 15 2 8 8 2 3-7 1-16M1742 2550l-6-15-7 3-2 16 1 8 3 7 6-6-2-16-6 5 0 8 2 7 6-6-1-15-7 4 0 8 7 4 2-7-2-8-4-7-2 16 2 8 4-7 0-8-3-7-1 15 3-7-6 6 2 8 7 3 1-8-2-15-4-7-4 15 2 8 6 5M1737 2565l2-16-4-7-7 3 0 8 1 8 7 4 2-16-4-8-7 4 0 8 4 15 6-6-2-15-6 4 0 8 2 8 6-7-1-15-7 4 0 8 7 5 2-8-2-8-5-7-1 16 1 8 4-7 0-8-3-7-1 16 5 6 2-8-2-8-5-6-1 8 0 8 5 6 2-8-2-8-6 4 2 16 6-6-2-16-6 5 0 8 2 7 5-6 0-8-3-8-1 16 3-7-3-7-1 8 5 6 0-8-3-8-1 8 1 8 3-7-1-8M1735 2544l-7 4 1 8 2 8 4-7 0-8-3-7-1 16 7 5 0-16-5-7-2 16 5 6 2-8-2-8-4-6-2 16 5 6 2-8-2-8-7 5 1 7 2 8 5-6 2-8-2-7-4-7-3 8 1 15 7 5 1-16-3-7-7 3-1 8 5 16 5-6 1-8-1-8-3-7-7 3 0 8 3 16 8 3 3-16-1-8M1740 2553l-3-16-6-5-5 15 2 16 2 8 6-6 2-16-4-7-7 3 0 8 4 16 5-6 2-8-2-8-4-6-1 15 5 7 1-8-1-8-5-7-1 16 5 6 2-7-2-8-7 4 3 16 5-6 2-8-2-8-4-7-2 16 5 6 2-7-2-8-7 4 3 16 4-7 0-8-3-7 0 16 6 4 1-8-1-8-5-6-1 16 2-8 1 8 0-8-3-8-1 16 6 5 1-8-2-8-4-7-2 8M1730 2547l0 8 5 6 2-8-2-7-7 4 3 16 4-7 0-8-3-7 0 16 3-8M1735 2552l-2-8-6 6 1 8 2 8 8 3 2-8-1-16-2-8-6-5-5 15M1726 2547l2 16 2 8 8 2 3-7 1-16-5-15-8 3-2 16 4 15 6-6-2-16-6 4 0 8 2 8 6-6-1-16-7 5 0 8 7 4 2-8-2-7-4-7-2 16 1 8 4-7 0-8-3-7-1 15 7 5-1-16-4-7-2 16 5 6 1-7-1-8-5-7-2 16 2 8 7 3 1-15-2-8-5-6-2 7 1 16 5-15-7 4 1 8 6 5M1736 2562l2-8-2-8-4-6-2 8 1 15 4-6 0-8-3-8-1 16 7 5-1-16-4-7-2 8 0 8 5 6 2-8-2-7-5-7-1 8 1 16 7 3 1-8-2-15-5-6-2 7 1 16 5-15-5-7-1 8 1 16 7 4 1-8-2-16-5-6-2 8-1 8 2 15 6-6 0-8M1737 2553l-2-8-6 5 2 15 5-6 0-8-3-8-1 16 3-7-1-8-6 6 3 15 4-6 0-8-3-8-1 16 7 5 1-16-2-8-5-6-3 8-1 8 3 15 4-6 0-8M5012 1738l27 84 25 93 20 94 16 94M5100 2103l9 80 7 95M5116 2278l4 112-4 128M5116 2518l-8 88-11 79-21 110-21 86M3510 2220l3-48-1-48-13-127-3-40 3-120M3455 2723l3-128 5-96-1-40-4-56M3780 3750l-11-30-12-38-42-163-7-39-9-80-15-86M3689 2363l-4-40-8-47M3934 1372l14-46 18-45 34-72 25-41 27-29 31-25 28-15 38-12M4234 3516l-19-35-16-37-17-45-14-46-11-47-22-126-27-108-23-118M4179 1652l22-61 14-28 20-35 22-33 20-25 22-24 19-15 21-11 23-7 23-4 24 1 24 3 23 7 23 8 28 15M4507 1443l40 26 38 29 35 33 38 42 48 64 49 72 32 56 37 71M4738 1803l67 119 30 65 22 60 21 69 26 109 13 63 6 55M4214 2779l0-120 3-112-6-184 4-96M4244 2164l27-125 19-110M4290 1929l14-54 39-114 21-43 24-32M4388 1686l22-23 32-24 22-10 23-5 32 1 31 8 36 18 26 19M4553 3342l-29 12-24 6-23 2-16-2-15-6-21-12-35-33M4390 3309l-36-43-21-33M4333 3233l-14-29-11-30-15-46-9-39-17-102-5-80M4262 2907l-1-80 4-88 0-56M4265 2683l1-112-8-128-8-71-2-32 6-96 10-71M4264 2173l21-102 15-95M4319 2132l19-126 16-70M1908 3888l56 45 64 47M2028 3980l114 75M2142 4055l76 44 64 34 72 34 81 35M2435 4202l120 44 138 40 70 16 71 15 134 20M3001 858l-13-55-12-38-17-44-19-36M2940 685l-23-33-29-27-34-21-38-13-47-10-47-3-56 4-56 8M3077 721l-17-62-12-29-11-22-13-20-16-18-18-16-20-13-21-11-23-8-31-8-24-3-63-2-80 8M2630 3436l9-80 1-112 3-55M5005 2108l17 143 5 112M5027 2363l1 87-1 72-5 72-8 64M5014 2658l-12 79M4817 3604l-46 55-42 49-89 92-101 91-101 79M4734 2747l-14 19-12 11-7 3-8 1-16-4-20-13-14-18-13-30-8-31-6-47M4117 1318l26-40 17-17 19-15M4479 3183l-22-23-19-26-16-28-27-58M3711 4073l-56 1-56-6-46-13-28-15-19-15-11-11-23-33-16-37-15-54M2012 1820l-15-19-16-17-33-23-22-9-16-3-31 1M3868 3979l-32 0-32-3-32-6-22-7-22-11-19-14-17-17-13-20-14-29-10-39-15-86-24-126-7-48-3-39M2561 1873l-4-64-3-112M4136 3926l-97 37-100 31M4066 3674l-29-48-18-36-11-30-29-100-12-55-4-87M3631 3112l-2-88 5-112M2910 4182l104 5 32-1 32-3 23-6 22-8 14-8 18-15 10-13 10-22 7-23 6-31 3-40 2-120 4-64M2370 4129l118 48M3808 1087l35-72 21-34 25-31 31-25 36-17 23-7 24-5 56-2 55 7M2245 3197l12-79M3730 4318l-102 22-110 18M2856 2223l-4-135M3151 1607l9-144M4622 3189l-29 12-16 2-16 0-16-5-14-7-34-21-28-28-19-26-19-35-33-73M5204 2216l4 80 1 72-2 72-4 72M3765 2221l-2-72 1-176M3764 1973l-1-48 4-80-1-48M3766 1797l0-48 1-32M2016 4059l15 6 153 87 85 44M4508 2030l19-26 21-24 17-16 20-14 14-7 16-3 16 1 15 4M2502 3867l29-14 19-15 11-11 24-32 20-35 26-58 13-38 10-47 10-71M1787 2388l-15-18-21-11-8-2-8 1-7 4-12 11M1727 2842l13 10 15 5 8 1 15-5 14-7 13-10 11-11 14-20M3879 1301l26-92 18-45 17-27 14-20 42-47 19-16 19-14 22-11 22-8 23-5 24-3 56 1M4473 2535l-1-32 2-24 11-63M4365 3592l-47 10-24 1-23-4M2009 3907l72 50 81 52M3329 3583l4-80 0-200 5-79M2890 3984l14-19 8-14 15-46 33-164 16-111M3497 771l11-30 13-29 13-21 14-18 17-18 19-15 27-16 22-9M3051 1486l2-56-1-48M3814 4364l-31 3-63 12M2596 2571l-1-152M2595 2419l1-112-2-160-3-64M4626 3152l-31 9-24-2-29-13-33-23M3836 2409l4-88-4-72M4380 2777l-5-96M2738 2953l10-151M4855 2346l4 55 4 104-3 64-6 56M3437 3238l3-96-1-40M2387 1704l-18-78M3587 1048l11-39 17-45M3658 1583l4-39 1-72 3-40 7-40 18-77M3170 808l-3-112-5-64M2391 3771l21-12 24-21 19-26 24-42M2479 1133l-24-32-29-27-34-21-37-16M4433 2410l6-104 6-48 15-62 23-77M3398 1726l-1-96 2-64M4170 2994l-1-48 2-88-1-184M3872 3091l-11-96M3082 2062l-7-72M3006 3546l7-71M2544 1597l-4-136-4-48M1285 2546l14 119M4752 2067l23 43 23 51M4879 2571l-6 55-12 79M1698 1696l-49 83-32 64M2738 3444l11-72M1265 2071l-14 135M2462 3274l11-120M3171 2187l2-56-3-48M3003 533l-35-18-46-13M4347 2263l1-56 4-48M3125 1437l2-48-2-96 2-112M3127 1181l-2-184M2674 3255l7-79M1375 2103l-12 87M4303 1613l33-46 16-18 18-16M3841 3028l-10-79M3808 2928l-1-88M3853 3240l-1-96-4-48M3601 4368l-79 13M3388 922l12-111M5225 2088l9 79M3693 3443l-10-72M2868 3751l17-78M3263 830l1-88" stroke="#999999" stroke-width="11.2"/>
<path d="M3225 2349l-2-104 7-120-6-104-6-167M4635 1024l62 73 48 64 59 86 55 88M4002 4097l-105 40-61 19-70 18M3766 4174l-101 21-87 13-96 8-80 0-64-6-23-4-23-8-14-7-13-10-9-13-7-14M2679 466l-69 21-68 23-67 27-66 29-65 31-63 35-62 36-60 40M3105 2738l1-96 15-111 5-112-3-48-14-103-3-64M3021 1150l-11-95-10-63-25-118-21-77-25-59-24-41-15-19-17-17-31-24M2315 710l-91 51M3023 2531l-9-63 0-56M1989 1024l-58 54-62 64-52 60-49 63M2371 3890l39 9 32 3 32 1 31-3 32-6 23-8 21-11 19-14M2726 3456l15-111 18-175 3-56 0-88M2781 2331l-4-96 0-160-3-136 1-96M2775 1843l0-96M2750 1316l-18-94-15-119-7-39-18-53-20-44-15-28M2692 3456l9-79 3-56M2666 3552l6-95 7-64M2700 2994l8-96 7-135-2-48-9-120M2625 1820l-7-55-17-191-2-48 3-48M2615 2691l-1-224 6-152 0-88M1946 3601l51 39 46 31 63 36 51 23M2157 3730l45 16 47 10 48 4 39-5 30-12 14-8 12-10 21-24 25-41M2554 3239l4-72 7-79 1-120 9-144-1-48-7-72M2536 1610l-10-176-7-39-12-38-54-125-26-50-13-20-16-18-18-16-26-18M1987 1177l-55 46-52 50M2427 3058l1-40-2-104 6-104 0-64M2066 3238l27-67 15-45 41-188 7-71 3-176M1744 1821l-32 45-24 42-34 72-34 82-21 60-18 70-12 54-13 79M1853 2166l-17-17-13-9-22-10-15-2-16 2-15 6-19 15-16 17-19 26-16 28-22 52-9 30-9 39-6 40-5 47M1796 2546l-2-32-4-24-8-23-7-14-14-19-13-10-7-2-8 1-7 4M4862 3336l-33 55-36 53-37 52-40 50-47 54-60 65-45 45-48 43M4516 3753l-42 36-44 35-66 46-67 44-61 37-63 36-50 25-58 27M3598 4171l-64 3-56 0-48-4-39-7-30-11-21-12-24-21-12-21M3405 887l11-87 10-47 8-31 11-30 11-21 17-27 15-19 17-17 18-15 28-16 22-9 31-9 32-4 64-2M3499 1837l12-144-2-64-8-119 5-136M4978 1778l24 77 17 61 16 71 12 62 11 72 8 71 7 88 4 72M3947 3999l-47 11-39 7-48 5-40 1-40-1-31-4-31-8-30-11-28-16-18-16-16-18-13-20-11-21-10-31-14-70M3531 3807l-19-111-7-63-13-208-8-96-1-104M3483 3225l1-64-1-47-16-144-11-199-1-48M4114 3873l-78 18-56 7-48-1-39-9-21-11-14-8-12-10-17-18-22-33-27-58M3691 2635l-5-104 4-112-1-56M3930 896l22-9 23-5 32-4 32-1M4202 916l71 36 68 41 65 47 55 46M4317 3572l-24-5-14-6-14-9-17-17-14-19M4085 2954l-5-48-1-56 15-199M4094 2651l4-200 20-207-1-48-10-80M4824 1836l26 59 22 60 18 61 21 85M4923 2343l4 128-2 80-12 103-22 126M4272 2357l0-48 8-88 37-229M4232 2403l-3-48 0-40 7-95 8-56M4301 2347l0-40 5-71 13-104M4354 1936l19-53 20-43 20-35 29-38M4442 1767l23-23 25-20 22-10 23-3 24 2 31 10 28 15 31 25M4337 2701l3-96 0-40M1916 1200l-72 75-76 93-50 72-61 104M3455 3589l-12-231M5074 2113l12 104M5086 2217l6 79M4438 3970l-52 37-67 43M4399 1717l15-19 23-22 19-14 22-11 15-4 24-1 16 1 23 7M3988 1852l14-119 17-78 20-110 38-131 19-53 21-43M3441 3890l-20-85-3-32-2-48M3695 2897l1-95M5221 2547l-7 71-12 80-15 78-18 78M5169 2854l-25 93-28 83-31 83-38 88M4935 2506l-7 88M3404 3162l2-64-5-64M5034 1438l56 142M3145 1799l3-64 3-128M1961 1076l-57 56-60 64M2254 2003l-12-87M4064 1666l23-102 17-61 25-76 25-59M3087 1322l-1-40 1-40M2296 2286l6-80-3-80M4605 1314l56 67 65 91M3225 4446l8 0-8 0M3225 4446l8 0-8 1M4653 1609l64 82M2473 1231l-24-50-17-27-20-25-18-16M3258 2392l4-104M1287 2785l31 125M1503 2248l-14 103M4229 2015l21-102 24-84M4638 2324l23-22 14-8 15-5 8 1 15 5 12 10 11 13M2836 2466l-2-48 2-88-6-80M1579 3611l108 149 11 12M5143 2750l-20 94-22 77-27 84-31 82M2402 651l-58 27-64 33M2436 2152l-9-104M3753 682l48-6 56 0M2713 3164l6-64 0-112M2000 2571l-2-72-6-96-2-96M4618 1179l45 56M4350 2407l-3-144M3179 3232l-9-96M3829 2116l12-112" stroke="#bdbdbd" stroke-width="11.2"/>
<path d="M3218 1854l-8-152 7-232M4673 3630l-55 59-46 45-47 43-55 46-51 38-79 55-61 40-61 36M3238 3771l-1-56-9-144 0-64 3-63M2159 708l-85 60-86 71-89 82-77 81M1297 2440l3 72 6 71 20 135M1326 2718l21 102 21 77 27 84 42 112M3078 3473l8-80 4-56 2-96-1-72M3091 3169l1-56 8-119-2-144 7-112M1373 1926l-24 118-14 87-12 119-5 112M1884 3669l42 37 43 36 77 58 52 36 61 39 42 23 129 65M2642 4060l40 6 40 3 40 0 39-3 40-6 23-6 23-8 28-16 18-15 16-18 14-20 10-21 12-47 8-71M3070 2451l2-64 0-40-10-96-4-103-11-96M2842 637l-22-12-22-9-23-6-31-6-56-3-64 5-71 14-84 24-75 29-79 37M2224 761l-80 53-83 63-91 78-74 73M3022 2955l-1-152 7-168-1-56-4-48M2980 3138l-14-136 2-104-6-103-1-120M2780 2779l4-64-9-256 6-128M2656 3701l10-31 7-39 12-87 7-88M2679 3393l3-40 2-104 10-87M2704 2595l-1-64 3-176M2644 2171l-4-240-5-48-10-63M2602 1478l1-40-2-32-5-32-8-31-55-141-21-44-15-28-13-20-20-25-18-16-19-15-42-22-23-8-31-8M1614 3175l68 118 58 86M1740 3379l53 70 47 55 46 45 60 52M2538 3374l10-63 6-72M2567 2704l0-104-4-248-12-231M1732 1479l-82 137-68 137-24 59-22 60-17 53-17 62M2116 3718l36 18 38 14 30 10 39 8 40 3 32-1 31-7 22-9 20-14 12-11 15-19 16-27 37-71 29-66 14-37M2389 1614l-22-77-30-74-28-57-32-47M1898 1381l-35 33-32 35-55 69-38 51-26 40-29 49-72 134M1516 2088l-17 86-17 103M2112 3629l39 7 32-1 31-9 27-17 28-29 33-45 23-42 21-52M2407 3176l14-70 6-48M2390 3161l12-63 5-40 1-48-2-80M2406 2930l8-135-2-144 9-104M2420 2092l-14-119-9-112-12-79-10-47-29-108-24-68M1897 3469l57 44 34 21 29 13 30 11 31 7 32 2 24-4 15-5 21-12 17-16 16-19 13-20 16-27 32-73M2351 3010l8-96 13-111 0-40-4-96 3-96M2371 2571l7-136 12-95 3-56-2-120-13-159M2275 1743l-37-105-20-44-40-69-20-26-16-17-18-16-21-12-22-9-16-4-23-2-24 1-24 5-23 8M2201 1784l-21-69-15-37-14-29-17-27-18-26-16-18-18-16-20-13-22-10-23-6-16-1-24 2-24 5-22 8-29 14M2105 1966l-9-47-9-31-20-44-23-42-23-32-22-24-25-19-21-11-23-6-24 0-31 8-22 10-28 16-25 19-24 22-32 36M1606 2887l18 53 19 45 18 35 29 48M1582 2879l22 69 21 52 29 56 37 62 41 60 40 50 44 46 31 25M2110 2993l15-71 7-55 4-136-2-72M1740 2547l-3-8-5-6-4 16 2 15 7 4 3-16-3-15-6-5-5 15 0 8 4 15 8 3 3-7M1741 2566l1-16-5-15-8 2-2 16 5 15 5-6-1-15-5-7-2 16 2 8 7 3 1-16-2-7-4-7-3 16 1 7 3-7-2-8 0 8 5 6 0-8-3-7-6 6 3 15 4-6 0-8-3-8 0 16 3-7-2-8-6 6 3 16 8 2 2-15M5055 2881l-39 122-55 141-38 80-61 112M4065 4039l-133 55-91 29-117 29-63 11-63 8M3316 2225l3-80-1-104 2-88-1-88M3700 553l71 7 79 16 77 22 89 34M3525 3258l1-128-8-192M3498 2339l12-119M3506 1374l-4-280 1-32 4-32M4836 1457l83 173 35 80 24 68M5077 2352l0 96-2 72-5 64-7 63M3787 4054l-87 7-32 0-32-3M3684 3314l-2-40 3-104-3-72M4039 877l40 3 39 7 46 14 38 15M4559 1181l75 83M3769 2682l8-55 4-48M4107 2116l-1-47 4-48 33-165 21-142 15-62M4891 2780l-20 78-20 61-47 110-35 72-32 55-33 46-32 35-42 38M4114 2683l7-120 1-104 17-175M4151 1981l26-134 20-118 15-54 21-52 26-49 31-47 26-30M4307 2883l4-192 5-104-3-64M4313 2523l-12-176M4341 2555l-5-72-5-184 4-104 11-95M4645 1795l24 21 16 18 57 77 42 68 37 71M4476 3209l-34-34-27-40-41-87-21-60-8-39-5-56-3-64 0-128M4614 2301l24-32 25-20 14-7 16-2 8 1 14 7 13 10 16 18 12 21 11 21 14 46 8 55M4797 2523l-1 40-3 40-15 78-14 46-11 30-13 29-16 28M4695 2558l1-16 5-15 5-7 8-3 5 6 4 15 0 24-6 23-6 6-7-3-7-14-2-16 1-16 5-15 5-7 7-3 6 6 3 15M4715 2534l3 8 1 16-5 15-7 2-5-15 0-16 2-8 4-7 8 2 4 16-2 23-4 7-7 2-5-6-3-24 4-16 4-6 8 2 5 15M4719 2549l-1 16-3 7-8 3-5-16 0-8 5-15 6-5 4 7 1 16-3 15-8 3-4-16 0-8 4-15 8 2 3 8 0 16-4 15-8 2-5-15 2-23M2307 4184l80 37 82 33M1310 1664l-50 186-28 133-21 142-10 128M2141 1034l-49 28-65 46-57 44-54 48M2968 4337l104 10M5000 2694l-17 102-19 78-26 84-35 89M3601 3643l-11-79-6-120M4304 1970l13-63 23-68 30-74 15-28 14-20M4099 4135l-88 38-90 34-91 30-100 27M3416 3725l-4-176 1-104-1-96 6-168M5085 1597l35 98 31 99 24 93 23 110M4401 3650l-61 38-43 21-46 15-31 7-24 3-40-1-16-3-22-8-27-18-11-11-14-19M3963 3318l-2-64 2-128-7-120M5152 2026l11 71 9 80 9 136-1 136-4 71-7 72M3518 4358l-95 11-88 7-112 3 8-1-8 0 8-1-8 0 8 0-8 0 8-1-8 0 8-1-8 0 8 0-8-1M3256 1619l4-72 5-144M1197 2271l-2 128 5 120 13 127 17 111M2864 4162l103 5 40-1 32-4M1709 3064l48 64M2121 2701l-6-120M2720 3609l13-87M4401 2481l6-88 1-136 3-39 7-48M4418 2170l18-86 18-53M3034 4267l80 3 64-3M3052 1382l-8-88 2-128M4973 3433l-42 69M2299 2126l-3-112M4206 834l76 45M4229 3739l-31 6-32 2-24-2-24-4-15-6-20-12-17-17-14-19M3474 786l17-53 18-37 22-32 29-28M5183 2880l-28 100-39 114M3409 4444l-184 2M4043 3693l-29-57-16-36-45-154M2440 1306l-26-59-24-41M2082 1691l-15-18-18-17-19-15-20-12-23-8-15-3-16-1-24 3M5198 1852l25 150M4663 3320l-28 29-35 32M2052 1460l-23-3-24 2-24 5-22 9M1516 2382l-3 72 4 104M4577 3225l-24 0-15-4-22-11-26-18M3565 3533l-6-143M1841 2944l14-19 9-13 22-52M4845 3632l-54 69-62 73-61 63-70 66M2008 3489l24 2 16-1 23-8 14-8 12-10 17-17 45-56M3492 3553l-8-120M3794 2831l6-80M4522 2647l-12-79M3370 4382l-120 5-24 0 8 0-8 0 8 0-8 0 8 0-8 0 8-1-8 0 8 0-8 0 8-2M4067 977l40-3 40 2M3249 4009l-5-87 3-88M2226 4003l121 62M3000 462l-32-4-32-3-64 1-79 9-79 15M3215 400l-8-14-7-5-15-5-31-4-88 0-104 9M3536 3290l-2-48 1-112-4-88M3018 4290l120 6 48-1 24-4M2927 1879l1-48-4-112 1-72M2650 3124l3-40 2-80 6-56M4454 1935l29-39 17-16 19-14M1785 2307l-20-13-16-3-8 2-14 7-16 18M3945 2318l-2-112 2-48M4901 3557l-45 66M5088 2583l-13 95M2986 2245l-9-119M3981 3347l-5-104M3976 3243l2-120-5-96M4055 3221l-11-88M5261 2179l4 136" stroke="#dedede" stroke-width="11.2"/>
<path d="M3217 1470l5-72 8-63M3238 1024l12-71 4-32 0-32-3-104 5-96M4411 807l55 46 58 55 51 51 60 65M4859 1335l50 91 53 108 49 118 36 106M5047 1758l21 69 19 69 15 70 15 79 10 63 9 72 9 143M5138 2555l-12 103-21 119-20 85-30 100M5055 2962l-35 98-50 118-42 86-55 97M4873 3361l-65 101-73 96M1355 1892l-24 118M1331 2010l-16 95-12 111-7 120 1 104M1437 3093l38 88 50 100 61 104 58 86M1644 3471l58 76 91 102 78 80 66 58M2993 3838l8-64 41-277 15-151M3057 3346l6-128-2-176-4-176 2-72M3031 3378l8-128-3-88M3036 3162l-4-88-10-119M2961 2675l-13-176-3-64M2775 1747l-2-80-6-120M2767 1547l-2-95-15-136M2495 3884l23-6 30-13 19-14 17-17 15-19 13-20 25-50 19-44M2694 3162l6-64 0-104M2618 3090l4-96 12-103 5-80 0-40-4-88 0-96M2438 3660l28-57 35-90 16-53 21-86M2468 2297l-18-199M1611 1792l-29 66-21 60-24 84-21 86M1467 2492l7 112 14 103M1488 2707l16 87 13 54M1868 3468l59 54 31 24 33 22 28 17 29 14 29 12 31 9M2346 3441l40-155 21-110M2421 2547l7-136M2428 2411l5-64 1-48-14-207M2378 2005l-13-120-10-63-12-55-22-68M2298 1861l-14-79-9-39M2246 2978l11-111M2257 2867l5-56 0-40M2262 2771l-4-80-4-240 0-88 2-80M1879 3340l31 9 24 3 23-3 23-9 26-18 27-29 19-26 14-29M2159 2691l-4-168-4-64M2151 2459l-6-224-11-95M2134 2140l-29-174M1556 2325l-8 64-2 48 7 160 9 71 18 119 10 47 16 53M1847 3299l29 14 31 7 24 0 23-7 26-18 29-28 19-25 19-35M2047 3207l23-52 13-37 27-125M1915 2427l-3-80-11-63-10-39-14-37-10-22-14-20M3350 2762l9-119 4-88 12-103 0-64M3518 2938l-4-112-5-63M3507 1030l10-47 16-62 26-76 17-44 15-29 22-33 21-24 25-20M3682 3098l-1-80 11-103 2-40 1-144-4-96M3739 1309l13-87 18-78 18-53 35-81 19-35 23-33 30-26 35-20M4461 1086l47 44 51 51M4634 1264l39 50 33 46 52 80 37 62M4630 3275l-25 19-27 17-29 13-24 6-24 2-15-2-16-5-20-11-26-20-34-34-20-24-18-27-17-36-14-38-14-46-10-46M4297 3043l-13-87-2-120M4282 2836l9-256-10-144-9-79M4317 1992l8-47 10-39 19-53 22-51M4139 2284l3-64-4-96 1-40M4184 2779l-1-96 3-56M4186 2627l5-72M4346 2100l16-87 11-38 10-30 16-37 18-36 18-26 20-25 30-26 27-18 21-11 16-3 24-1 23 5 29 14 20 14M4902 2543l-4 56-7 56-14 87-12 54-12 47-17 53-18 45-24 50M4776 2342l10 47 10 96 1 64-6 63M4606 2783l-13-30-9-39-9-95-13-87-1-32 4-48 13-62 17-54 19-35M4722 2538l0 32-6 15-7 2-6-6-4-15-1-16 3-16 5-7 6-4 5 6 3 16 0 16-2 8-4 7-7 2-4-7M4704 2555l3-15 5-7 4 8 1 8-2 15-8 3-2-7 2-16 4-7 4 16-1 8-7 4M4715 2556l-1 8-7 3-3-7 2-16 4-7 4 15-1 8-6 5-2-8 2-16 5-6 4 16-2 16-7 3-3-8 0-16 3-8 5-5 6 15-1 16-2 7-8 3-4-15 0-8 4-15 8 2 2 16-3 15-8 3-4-15 1-16 4-7 6-5 4 7 2 16-1 16-4 7-7 2-4-7-2-16 1-8 6-14 7 2M4720 2544l-1 24-2 7-4 7-7-4-4-7-1-24 5-15 7-5 4 7 1 8 0 24M4714 2529l5 15-2 24-3 7-7 3-6-15 1-16 2-8 4-7 7 2 3 8 0 16-4 15-7 2-4-7-2-16 1-8 6-15 7 3 5 15-2 24-4 7-8 2-4-7-2-8 0-24 7-14 8 2 3 7 2 24-3 16-4 6-7-4-4-7-1-24 5-15 7-5 4 7 1 24-4 15-8 3-3-8-1-23 6-15 7 2 4 7 1 16M4718 2541l1 16-4 15-8 3-4-7-1-16 4-16 6-5 4 7 2 16-4 15-7 3-5-16 0-8 5-15 6-5 4 7 2 24-4 15-8 3-5-15 0-16 6-15 8 2 3 16M4614 2587l-1-40 1-32M4640 2627l-4-64 2-32 3-24M1599 1241l-73 124-65 128M1461 1493l-59 140-41 122M4903 3047l-43 104-46 84M5195 2904l-20 78-41 146-5 23M4319 4050l-96 57-93 48M2977 3618l9-80 13-191 4-88-1-56M2717 1394l-34-172M5198 1997l20 143 10 135 1 144-8 128M5047 3201l-34 72-46 84M2783 3220l5-63-3-112M5132 1924l20 102M1768 3651l67 69 70 66M4298 3890l-111 64M3223 4374l8-1-8 0 8-1-8 0 8-2-8 0 8-1-8 0 7-1-8-1 8-1-8 0 8-1-8 0M1230 2757l26 117 30 108 39 113 45 112M3731 2863l8-152M1541 2392l-2 55 2 72M4000 3018l-9-119-2-56 2-72 8-88 2-48M1569 3392l39 60 42 59M2825 2595l3-48-3-56M4454 2031l22-43 27-39 21-24 32-24 29-13 24-2 16 3 15 5 27 16M1182 2174l-4 232 3 112 7 144M4491 1874l26-19 36-18 23-5 16 0 16 2M4654 2485l12-30 8-14 10-12 13-9 8-2 8 1 7 4M2579 3404l11-71M3085 439l-31-8-40-4M2848 542l-48-4-56 1M4396 3421l-25-19-27-30M4937 3319l-62 103M2579 1046l-18-27-20-24-18-16-20-14M3121 1707l0-56 3-48M2322 3144l11-80M1633 1985l-29 74M2561 4110l77 22 94 19M1526 3531l53 80M2335 3577l25-41 23-52M3234 4384l-8 0 8 0-8-1 8-1-8 0M2779 1708l-4-88M4286 2940l-2-80 2-56M3678 610l32-5 40-2 40 2 40 5M2485 4128l98 34M4819 1897l28 67 21 60M4022 3533l-24-77-9-39M4427 2835l-12-103M2834 3570l1-88M1832 2185l-19-14-15-7-15-4-16 0-22 10M2483 3382l12-79M1256 2584l9 71" stroke="#f5f5f5" stroke-width="11.2"/>
<path d="M3230 1335l5-40 1-32-6-160 2-40 6-39M3256 689l10-95 7-40 11-38M3284 516l10-22 8-14 11-12 18-15 29-14 23-6 24-4 64-3 72 3 79 11 86 17M3708 457l78 19 69 22M3855 498l75 27 59 24 65 30 65 33M4119 612l76 43 68 43 72 50 76 59M5145 2323l0 120-7 112M4735 3558l-62 72M3231 3444l0-48-8-136-13-136-11-159M3199 2965l-10-104M3189 2861l-6-112-1-56 4-39 16-95M1822 1002l-73 85-54 69M1695 1156l-54 79-39 61-52 90-44 85M1506 1471l-40 88-41 104-43 129-27 100M1318 2362l1 96 5 96 10 87 14 87M1348 2728l22 102 21 77M1746 3524l65 71 73 74M3059 2794l5-63 3-96 6-80-3-104M2798 648l-37-15-47-9-47-3-56 4M2997 3680l24-183 10-119M2942 2060l-3-80 10-143-8-120M2945 2435l-4-144M1561 3122l20 43 34 64 74 123M2635 2587l2-136 8-152-1-128M1502 1987l-26 117-19 110-11 88-8 119M1438 2421l1 104 11 136M1450 2661l10 71 15 79 14 54 22 68M1511 2933l35 99 23 59 28 58 34 63M1631 3212l40 69 39 61 37 52 39 51M1786 3445l35 43 39 41 34 33 49 42 44 34 39 28 48 29 42 23M2450 2098l-5-48-11-79-8-104-12-103-12-87-13-63M2277 1359l-21-24-23-22-19-15-20-12-15-6-23-6-40-2-32 5-23 5-30 11-29 13-48 30-56 45M1482 2277l-13 127-2 88M1517 2848l26 84 26 76 25 59 32 64M1626 3131l65 110 66 100 45 57 66 70M2108 3620l23 5 24 2 16-1 24-5M2322 1559l-43-95-20-34-22-33-21-25-24-21-26-18-22-10-23-6-32-2-32 4-31 9-36 16-28 16-33 23-37 30M2256 2283l3-88-7-104-23-166-28-141M1902 1561l-47 31-36 31M1722 2916l17 17 13 10 23 7 16-1 28-16 22-22 17-28 19-44 14-46M1891 2793l10-47 5-47 7-160 2-112M3390 2260l2-136-9-144 3-128-4-104M3509 2763l-5-80-1-72M3503 2611l1-96-8-120 2-56M3659 695l20-13 22-10 23-7 23-5 56-4 64 4M3867 660l71 14 76 23 89 35 72 35M4175 767l96 58 86 59 74 60 70 66M4501 1010l45 46 58 66 41 49 39 50 74 105 46 75 32 56M5063 2647l-20 118-15 71-33 115-30 83M4965 3034l-44 111-35 72-75 132-62 94M4749 3443l-45 57-46 54M4658 3554l-49 53-51 51-52 49-49 42-44 35-46 32-54 35-48 28M4265 3879l-113 60-73 32-60 23-68 24-54 16-47 10-63 10M3751 3344l-5-72-1-136-6-95 0-40M3739 3001l15-160M3754 2841l5-88 10-71M3960 1915l16-167 19-102M3995 1646l13-95 32-116M4040 1435l17-61 24-60 24-42 14-19 17-17 19-14 21-12 37-14 24-4 24-1 32 1 24 4M4139 2084l3-48 9-55M4316 1497l18-16 13-9 22-11 15-4 24-3 16 0 24 3 23 6 44 18 48 29 49 40 39 41M4611 3266l-34 20-31 9-16 1-16-1-15-5-14-8M4485 3282l-38-29-40-39-28-40-21-42-23-60-19-78-7-47-2-64M4821 2050l17 45 16 54 26 100 12 55 5 40 3 47 4 96-2 56M4794 2991l-43 86M4751 3077l-39 61-30 37-36 32-40 26-30 12-16 3-16-1-22-7-21-12-25-19M4791 2612l-14 71-19 61-23 51-23 32-13 10-7 4-16 1-15-4-21-11-12-11-15-19-7-14M4789 2419l6 56 2 48M4724 2814l-16 18-14 8-16 3-15-2-15-7-19-15-14-18-12-21-12-30-9-39-9-96-12-87-1-48M4560 2480l11-71 10-38 10-31 22-43 14-19 16-18 12-10 21-12 8-2 15 1 15 7 18 16 24 32M4756 2292l11 21 8 23 11 46 10 96 2 72-5 55-11 63-18 62-21 52M4631 2617l-3-56 2-40 7-40 10-30 15-28 9-13 12-11 14-7 8-2 8 2 7 5 9 12 8 14 13 38 8 47 1 40-3 40-8 39-15 37-9 14-6 5M4718 2683l-7 4-8 1-7-2-13-10-8-14-8-22-5-24-3-32 0-32 3-32 5-23 9-22 8-14 11-12 6-4 8-2 8 2 10 12 7 15 5 15 7 39 0 40-4 32-11 30-8 14-6 5-8 2-8-3-6-5-8-13M4687 2628l-9-31-4-40 5-39 13-30 4-6 7-5 8-1 11 10 7 15 3 16 3 40-5 31-5 15-8 14-8 1-7-4-10-13-4-15M4688 2586l-3-32 3-24 9-22 12-10 8 1 4 7 6 23 1 32-2 16-5 15M4721 2592l-4 7-6 5-7-2-5-7-6-15-2-16 0-24 7-23 10-11 8 1 7 15 3 15 0 24-4 24-4 7-6 6-7-3-6-6-6-23 1-24 4-16 4-7 6-5 8 2 5 15 3 23-2 16-5 15-6 6-7-3-7-14-2-16M4703 2571l-1-24 6-14 7 2 3 7 1 16-5 16-7 2-4-7-1-24 6-15 8 2 3 8 1 15-2 16-4 7-7 2-5-6-3-24 4-16 4-7 8 3 3 7 1 24-2 8-3 7-7-5-3-16M4707 2565l-1-16 3-7 7 3 1 8-4 16-5-6-2-8 1-8 4-7 2 16-4 6-2-7 1-8 4-7 3 16M4718 2566l-4 7-7 2-5-15 0-15 2-8 4-7 8 2 3 7 1 16-2 16-4 7-7 2-5-7-3-16 4-23 4-7 8 2 4 15-2 24-3 7-8 3-5-15 0-16 7-15 7 2 3 8-1 24M4717 2566l-3 7-8 2-5-15 0-16 3-7 4-7 7 2 4 7 1 16-2 16-4 7-8 2-4-7-3-16 3-23 5-7 7 2M4720 2555l-2 16-4 7-8 2-4-7-3-15 4-24 4-7 8 2 4 15-2 24-4 7-6-4-3-16 3-16 5-6 5 15-2 16-8 3-1-16 3-7 7 4 0 8-2 8-7 3-2-7 1-16 5-7 4 16M4715 2553l-1 8-7 4-1-16 1-7 5-7 4 16-2 16-7 3-3-16 3-16 6-5 4 15-2 16-7 4-3-16 1-8 4-7 7 4 1 15-5 16-6-6-2-16 2-7 5-7 4 16-2 16-8 3-2-8 0-16 2-8 6-6 4 16-2 15-7 3-3-7 2-16 5-6M4711 2538l4 15-1 8-7 4-2-8 2-16 5-6 4 15-2 16-7 3-3-7 0-16 3-8 5-5 6 15-1 15-2 8-8 3-3-8-1-16 4-15 8 3 3 16-4 15-8 3-3-7-1-8 1-16 4-7 6-5 4 7 2 24-5 15-7 2-5-15 0-16 6-15 8 3 2 7 1 16-5 15-7 3-4-7-1-16 5-16 6-5 4 7M4717 2538l1 16-4 15-7 3-5-15 0-8 5-16 6-4 4 7 2 23-4 16-8 2-4-7-2-16 1-8 6-15 8 3 3 7 0 16-4 15-8 3-4-7-1-16 4-16 6-5 6 15-1 16-3 7M4714 2569l-7 3-5-16 2-15 3-8 6-5 4 7 2 16-1 16-3 7-8 3-4-7-2-16 1-8 6-15 8 2 3 8 0 16-4 15-8 3-5-15 2-16 3-8 5-5 6 15-1 16-2 8-8 2-4-15 0-8 4-15 8 2 3 15-2 16-3 8-6-6-3-15 3-16 6-5M4713 2533l5 15 0 15-3 8-7 3-3-8-2-16 2-7 5-7 7 4 1 24-3 7-7 3-3-8-2-16 2-7 5-6 7 3 1 24-3 7-7 3-3-8-2-15 2-8 5-6 7 3 1 24-3 7-7 3-3-8M4705 2566l-2-15 5-16 7 3 2 8 0 16-3 7-8 3-4-15 1-16 4-8 6-5 4 7 2 24-5 16-7 2-4-7-2-16 1-8 6-15 8 2 2 8 1 16-5 15-7 3-5-15 3-24 6-5 6 14 0 8-3 16-8 3-4-15 1-16 4-7 6-5 4 7 2 15-1 16-4 8-7 2-4-7-2-16M4701 2554l1-8 6-15 7 3 3 7 1 16-5 15-7 3-4-8-1-7 2-16 3-8 6-5 4 7 1 8-1 16-3 7-7 3-5-15 2-16 3-8 6-5 4 7 2 16-1 16-3 8-8 2-4-7-1-24 6-15 8 2 2 8M3388 3928l-21-126-6-47-3-72 3-88M3072 4347l112 4M3184 4351l32-1 15-5-8 0 8-3-8-1 7-3-8-1 8-3-8-4 7-4-6-4 6-6-6-5 5-6-5-6 4-7-4-8 3-7-6-23 3-24-1-168M2830 1697l1-40-1-32M5234 2014l19 191 6 144M5259 2349l-1 72-3 80-12 135-20 135-28 133M4921 3495l-68 99-70 87M4130 4155l-65 30-66 28-68 26-68 23-131 37-62 14-71 14M3599 4327l-87 13-95 10-88 6-88 3M3481 1986l-2-40 1-96 6-96M2040 2891l6-64 2-56-6-224M4007 2556l2-40 2-168M4011 2348l0-88 4-152-4-152 3-39 5-32M4249 2665l0-104M2104 2442l-2-104-8-87M2907 4401l103 12M1275 2217l-5 79-1 72 1 80 5 72M4404 3538l-39 6-24-1-16-4-14-7-13-9-12-10-21-25-33-55-24-59-15-54-19-94M4028 1307l20-44 27-39 16-18 18-16 34-21 38-14 47-7 32 0 24 2 47 11M1903 3090l28-29 22-33 18-36 11-38M1370 3207l48 101M3244 1193l-4-80 2-56M3069 3305l3-72-1-104 3-104-4-168M3070 2857l2-48 7-80 3-112M3030 638l-11-21-18-26-17-17-19-15M3327 1630l10-119 2-144M3197 3672l-8-63-3-48-1-160M3185 3401l-4-64M3117 4419l104 3M3237 1400l13-87M5009 2233l7 112 2 96-1 64M1528 2524l5 80 13 95M1546 2699l14 87 10 47M3678 1564l15-144 38-204M2185 2024l-6-40-5-47M2521 2610l5-135-4-112M2886 1987l8-120M3301 2686l6-104M1375 2987l36 98 31 74 34 72 41 78M2340 3833l56 5 24-2 23-6 22-10 19-14 17-17 15-19M3062 2522l-4-64 3-88-2-48M2090 1856l-21-43-21-34-24-32-22-23-26-19-22-9-24-4-31 3M2192 2963l5-48 1-80 0-160-5-200M4124 1157l37-16 39-8 48-1 47 6M3259 2797l0-88M2129 1775l-26-50-21-34M4875 3422l-40 60-43 58M4792 3540l-39 50-47 55M3452 2390l-2-104 5-72M1801 3056l16 1 23-8 25-19 22-23M3568 871l17-45 13-29M2026 2374l-3-87M3455 4330l-104 9-112 3M3182 3830l6-88-2-56M1193 2637l11 127M3329 423l24-6 23-4 56-3M2105 3778l41 24 49 27M2271 2189l-5-80-6-63M3511 2333l13-119M5033 3078l-37 88-31 65M4939 3408l-66 100M4216 3757l-31 7-32 3-24-1-24-3M2160 1419l-19-15-21-11-22-8-24-3-24 1-23 5-31 10-29 13M4391 3010l-16-45-9-47M4366 2918l-6-56-3-48M5061 1972l13 71M2571 746l-32-3-40 1M3124 835l-8-72M4061 3490l-20-53-11-46M2770 1890l-1-176M2691 4365l78 17 94 17M2945 4348l103 10M1492 2587l12 95M3853 3418l-6-47-5-120M3204 3307l-6-72M1831 2390l-8-23-14-29-13-20-11-11M4682 3556l-81 88M2692 482l-77 22M3650 2538l-2-48 3-56M1729 2807l14 8 8 1 15-3 15-6 13-10 20-24M1793 2336l-16-17-22-11-16 0-13 8M3536 4417l-80 8M3440 775l12-46 19-45M5118 1618l7 32 19 61" stroke="#ffffff" stroke-width="11.2"/>
<path d="M3171 1750l3-208 15-248-1-72M3188 1222l-3-96 3-56M2229 3984l84 45 87 40 74 31 91 32M2565 4132l85 24 101 21M1428 2981l44 120 31 73 51 100 57 97M3127 3865l7-128-3-136 2-80M3131 3034l1-48-4-112 3-112-1-80M3130 2682l3-48 18-127M3047 2491l-2-48 3-96-11-103-3-48M3034 2196l-20-255M3000 2196l-13-247M2983 1725l-4-64 0-56 9-119 0-32-2-40-13-104-3-47M2970 1263l-3-88-12-128-23-126-13-46M2919 875l-30-74-15-29-17-26-20-25-23-23-19-14-28-16-22-9-31-9-31-5-32-2-32 1-40 4-39 7-47 11M2493 666l-62 18-59 23-66 30-63 34M2949 1254l-5-79-12-120-27-141-18-53-27-58-21-35-25-31M2814 737l-23-22-19-14-21-12-29-13-23-6-32-5-32-3-40 1M2132 871l-58 42-63 50M2011 963l-42 37-46 44-87 94-71 87-72 105M1555 1574l-28 66-34 90-32 90-24 77M1437 1897l-22 85-23 101-10 55-8 72M1362 2409l3 112M1365 2521l8 96 11 87M1384 2704l23 118 24 85 69 196 19 44 28 58M1547 3205l61 112 37 61 36 54M1681 3432l63 83M2725 3858l46-128 15-62 15-87 6-104 5-56M2812 3421l31-205 4-40 1-56-7-120 0-64M2841 2936l5-88 10-63M2872 2203l-10-224 5-167 5-72M2872 1740l7-96-1-88 3-104-6-104-1-104-9-71M2865 1173l-17-103-19-69-14-37-20-44-26-50-20-34-15-19-16-18-26-19-20-13-22-10-30-10-31-7-32-3M2557 737l-32-1-32 2-63 11M2430 749l-69 19-67 27-64 33-75 46M2721 3699l9-39 17-103 14-103M2761 3454l19-118 9-80M2789 3256l7-79 0-64M2704 3321l5-80 15-127 2-136M2726 2978l6-80 7-152-1-40-12-143-1-96M2680 1604l-4-152-5-48-8-47-28-100-13-63M2622 1194l-15-62-19-44-16-28-18-26-15-19-17-17-18-15-21-13-43-19-47-12-48-2M2345 937l-48 4-46 12-53 19-72 35-47 30-58 42-50 41-59 54M2657 1677l-8-120-1-56M2648 1501l-1-80-9-55-56-184-14-37-26-50-34-44-35-33-20-14-21-11M2432 993l-23-8-31-8-23-4-32-2-32 2-24 4-31 8-30 10M2585 1413l-8-47-18-53M1562 1810l-24 67-19 62-26 100-18 87M1501 1959l-25 101-17 87-15 102-7 72M1437 2321l-6 120M2045 3579l30 11 23 5 40 4 24-4 15-5 14-8 12-10 22-24 19-25 17-27 15-28 21-52 25-85M2322 3331l32-115 25-134 5-56 1-112 9-103 1-56M1967 3468l15 5 24 5 16 1 16-1 15-4 15-7 13-9 16-17 61-75 19-26 16-27 13-29 13-38 7-32 6-39M1685 1802l-26 49-24 51M1874 3250l24 1 15-3 15-7 26-18 18-16 21-25 18-26 15-28 12-30 9-30 30-133 9-63 5-80M2091 2792l1-72-5-80-3-80-13-119-4-112-7-72M1840 3022l18-15 21-24 17-27 13-30 17-53 16-62 8-39 6-48M1956 2724l3-48-3-88 2-104-1-80M1957 2404l-1-56-3-47-8-48-13-54-15-46-13-29-13-20-22-24-25-19-29-13-16-2-23 5-21 13-22 22-24 32-21 34M2040 3154l13-30 12-38 31-148 10-64 5-79M2111 2795l1-88-9-160-11-103-2-96-4-48M2086 2300l-9-80-10-63-10-47-14-46M1896 1826l-15-3-24-1-24 6-21 10-27 18-23 22-22 23-24 32M1836 3198l23 8 24 2 15-4 22-11 26-18 22-23 20-25 16-28 12-29 12-39 23-101 10-79 4-96M2065 2755l-6-120-1-80-13-127-3-104-4-48M2038 2276l-10-80-14-62M2014 2134l-15-45-30-75-17-36-21-34-20-25-24-21-22-10-23-4M1842 1884l-16 2-15 5-28 16M1671 2725l15 37 15 29 14 19 17 17 14 7 16 2 22-8 19-14 15-19 13-21 12-29 6-23 9-56 8-79 2-48M1868 2539l-3-80-9-63-7-32-9-30-9-22-12-21M1819 2291l-15-19-11-11-22-11-15-3-16 5-19 14-15 19-15 28M3269 1646l9-111 2-136 5-40 17-119 3-40 0-48M3305 1152l-2-56 1-40 19-134 5-48M3463 519l37-13 39-8 56-3 56 3M3296 3498l-3-208 10-184 4-119-1-64M3363 1445l2-56 5-63M3337 2579l4-40 12-87 3-64M3356 2388l-3-104 4-168M3350 3321l3-64 12-127-1-80M3539 3433l-3-56-11-119M3458 2403l-2-56 0-72 10-111 1-40-4-40-18-102-2-64M3443 1918l-2-136-10-200 0-40 3-32M3472 923l21-77 25-76 20-44 21-34 16-17 18-16 20-14 21-11 23-9 23-6 47-7M3778 881l16-18 17-16 20-14 21-12 22-8 24-6 47-6 56 3 71 12 61 18 66 29M4199 863l56 31 55 34 52 36 45 34 43 36 46 44 56 57 48 54M3712 3202l1-56-5-88 0-40 3-40 12-95 5-128M3728 2755l6-112 4-168-2-48-11-152M3725 2275l-10-111-1-48 2-48M3781 2579l3-80-4-88M3780 2411l-1-120-6-112 2-232M3775 1947l5-96M3780 1851l1-128 22-190M3803 1533l7-72 5-40 33-115 22-110 13-38 23-41M3906 1117l34-45 33-35 32-24 36-17M3832 3335l-6-112 0-88-3-39M3823 3096l-16-127-3-56 0-56M3904 1472l30-100M4149 1087l40-4 40 1 47 8 46 14 37 16 41 24 60 40 58 44M3947 3494l-15-45-7-32-4-31-2-40M3919 3346l-2-208M3917 3138l-19-280-3-111M3895 2747l11-168 3-80 7-88-4-128M3932 1788l4-56 16-94 9-80 7-31 22-77 15-62M3948 3441l-6-31-3-32-1-232-7-104M3931 3042l-10-191-1-120M4996 2456l-2 72-6 80-12 87-15 86M4961 2781l-14 63-15 54-15 45-23 60M4052 3539l-26-67-15-54-6-39-10-112M3995 3267l0-152-15-215-1-80M4006 1877l11-55 13-95 37-164 18-69M4170 2060l9-71 17-79M4703 3292l-31 37-32 35-71 65-57 44-27 17-29 14-30 11-23 5-24 2-16-2-15-4-22-10-13-10-21-24M4292 3472l-24-32-20-34-14-29-13-38-54-226-7-39-4-48M4173 2347l9-176 9-79M4305 1652l21-34 20-25 21-23 18-16 21-13 22-8 16-4 24-1 24 4 30 9 22 10 27 17 26 19 29 27 28 29 26 31M4680 1674l29 38 27 40 58 104M4824 2730l-11 47-13 46M4811 2561l-4 48-9 55M4798 2664l-15 62-17 54-21 51-21 35-22 23-13 8-8 3-8 1-16-3-21-10M4636 2888l-19-15-21-24-17-27-19-44-9-31-7-31-13-119M4531 2597l-12-71 0-48 23-150 10-39 9-31 12-30 14-28 17-27 17-18 19-14 22-9 16 0 15 4M4545 2210l22-43 14-19 16-18 19-14 22-11 15-4 16 0 16 5 20 12 29 28 14 19 17 27 31 65M4723 2785l-11 11-13 9-16 3-23-7-13-10-11-11-15-28-11-30-6-32-5-55M4599 2635l-9-88-1-40 6-48 16-53 21-43 15-20 17-16 14-8 15-5 8 0 15 6M2191 655l-66 44-66 46M4712 1292l44 67M2846 949l-17-44-28-58-15-28-19-26-22-23-25-20-28-15-38-14M2748 4143l95 12 96 5 64 0 47-8 38-13 20-13 11-11 10-13 12-21 12-38M3623 4380l-95 15-95 12-96 7-96 3M3096 3911l5-72 20-471M3121 3368l-6-176M3205 1138l2-64 14-103 3-40 0-32-6-103 2-88M4451 1616l23-7 15-2 24 2 24 6M3492 1614l-7-95 6-80M4993 3278l-55 98-64 101-71 97-71 87M4732 3661l-48 53-45 46M4639 3760l-52 49-54 48-50 40-57 44-59 41-74 48-62 37-63 34M4168 4101l-65 32M4465 3292l-19-14-24-21-22-23-20-25M3326 540l13-20 10-12 11-12 20-14 36-16 39-9 56-4 56 2 71 7 87 16M4307 3648l-23 5-32 3-24-3-23-7-14-7-19-15-22-23-19-26M4616 2483l11-39 12-29 17-28 17-17 13-8 16-2 15 6 6 5 13 20M2015 2284l-6-55-6-40M3672 4240l-94 17M3578 4257l-103 11-96 5-96-1-32-4-15-5M2077 3579l31 5 32-2 23-7 21-12M4236 4146l-78 41M4491 2133l20-44 17-27 15-18M4543 2044l29-28 26-19 22-9 16-1 23 6 21 12 24 20 31 37M3724 3128l-5-96M3719 3032l4-64M3363 1057l11-112M3844 1890l4-56 3-120 12-103 9-112 10-55 18-61M3900 1383l31-91 29-75 17-36 17-27 15-19 22-23 25-20M5145 2641l-14 87M3437 2627l5-96M2694 1654l-3-168-4-64M2529 2872l4-72-4-72M2769 412l-78 19-92 27-83 28-89 36M2427 522l-73 32-72 36M3352 1416l3-56 8-71M2973 1695l-1-88M4533 890l63 63M2864 1379l-3-128-7-64M2940 1341l-16-192M3850 2924l-5-104 3-72M3229 1610l3-96M1676 3722l70 77M1746 3799l51 51 53 48 55 47 57 44M1464 1423l-51 109M2778 4348l78 15M2673 2080l-3-160M1520 2144l-14 79M2941 1603l2-56 6-88-1-40-5-48M3277 2487l14-87 6-144M2026 3274l21-34 24-51M2479 1784l-5-112-9-63M2872 4353l79 12 87 9 96 6 80 1M4731 1863l43 68M2374 2701l0-96M3292 864l2-96 9-88 7-39 8-31 11-30 14-29M3454 2942l-8-176M4265 1823l18-70M2246 2834l0-48-2-56M3749 3413l-10-79M1814 3742l69 66 62 52M3423 1487l8-55 2-40-6-168M3254 553l7-39 13-38 12-20 18-16M3310 388l72-3M4116 3443l-19-52-13-55M2369 1790l-11-46-43-146M3327 1234l3-56 0-96 3-48M2844 1616l-4-63 1-80-2-64M3281 1803l-6-88 4-56M4023 3348l-10-103M2341 1231l-16-17-19-15-27-17-22-9-24-6-23-3-24 0-32 4M2333 2510l4-96M2186 3721l31 6 24 3 24 0 24-2M3770 1016l25-59 21-34M4838 1661l41 86M2142 887l-66 46M1268 2988l26 100 3 24M3389 2923l-5-55-2-96 1-48 7-88M2562 2133l-5-88 6-104M2359 3623l17-27 15-28 27-67M3619 3722l-14-71M2723 3967l20-12 12-11 16-18 12-20M4147 4127l-65 31M3579 2723l-4-88" stroke="#999999" stroke-width="13.6"/>
<path d="M3172 2555l17-119 4-40-2-48-9-71M3182 2277l-4-56 4-80M3173 1950l-3-80 1-120M3171 2943l-5-55-6-168 2-64M1611 3371l43 67 38 52 40 49 59 66M3133 3521l2-136-12-240 1-40 7-71M3136 2197l0-56-10-103-8-168 1-48 5-96 0-56M3124 1670l3-64 16-175 2-136M3120 721l-9-55-10-39M3051 2611l1-64-5-56M2998 1310l-3-144-10-103-5-40-22-110-11-46-21-61-23-51M2987 1949l2-136-6-88M1374 2210l-8 95-4 104M2466 3942l56 5 48 2 40-4 31-7 29-14 19-14 21-24 15-28M2881 2411l-1-104-8-104M2426 3913l63 5 56-4 39-9 22-10 13-9 24-21 22-34 44-102 12-30M2362 836l-46 13-38 14-43 20-64 34M2706 2355l-2-248 0-176-2-56-5-48M2206 995l-37 15-37 17M2652 1852l-15-95-12-144M2542 1171l-29-57-14-20-20-24-17-17-19-15-21-12-29-13-23-8-31-6-24-3-32 1-32 4-23 6-60 20M1431 2441l3 112 7 87 7 64 22 118 10 39 17 53M2262 3086l42-228 6-47M2232 3175l11-87 17-103 22-150M1598 2572l11 103 21 110 8 31 13 38 33 73 20 35 20 25 22 23 19 14 22 10 16 2 16-3 21-11M1688 2152l-25 50-17 45-13 55-11 63M2043 2064l-35-98-16-36-16-28-13-20-21-25-18-15-28-16M1763 3138l40 39 33 21M1864 2025l-28-17-23-6-23 3-22 9-25 21-15 18-22 34-28 48M3266 1750l-1-48 4-56M3328 874l4-88 6-56 9-47 14-46 17-36 22-33 28-28 35-21M3306 2923l-2-48 2-136 9-168 10-71M3342 1956l3-120-1-127 15-192 4-72M4024 4038l-67 26-60 22-116 31-55 12-55 9-56 6-56 2M3544 3553l-5-120M3470 1837l4-144-10-151 1-40 10-96-1-32-4-47M3514 861l24-68 20-44 12-20 14-20 28-28 33-23 21-10 23-8 47-9 48-2M3735 3480l-23-174-1-32 1-72M3747 1995l-4-79-3-176 9-72 23-118M4071 3814l-39-7-23-7-14-7-13-9-18-17-9-13-12-21-23-51-26-67-42-138-10-38-5-32-5-72M3912 2283l-4-72 0-32 13-151 3-96 8-144M4808 1655l41 78 47 110 33 99 22 85M4951 2027l22 118 15 103 5 72 3 136M4578 3487l-53 49-44 35-52 36-55 34M3979 2820l1-56 16-232 2-183M4171 3276l-19-102-23-93-14-87M4141 2571l2-104 14-159 6-176 7-72M4352 1524l26-18 23-8 23-5 32 1 24 4 30 9 36 18 27 18M4783 2175l25 59 21 60 10 39 6 47 5 104-2 72-7 72-17 102M4659 2236l21-11 8-1 16 4 14 8 12 10 24 32 18 36 13 38 7 39 6 64M4784 2677l-11 39-12 38-15 37-15 28-19 26-13 10-14 6-16-1-23-8-19-14-16-18-16-28-15-37-8-31-5-31-4-56M4551 2438l15-78 11-39M4778 2285l16 45 9 47 8 104 0 80M4802 2726l-13 46-18 53-16 37-19 34-20 26-24 21-21 10-16 1-23-7-27-18-22-23-18-26-15-29-15-37-13-46-10-47M4512 2721l-11-95-13-87-1-48 28-182 12-46 18-53M4778 1096l71 97 69 107 58 105 52 108M4776 1314l59 95 41 78 58 123 48 119M4982 1729l34 106M2288 599l-97 56M3099 847l-12-79-10-47M3153 4043l7-55 14-232 0-48-6-64M2739 4113l103 7 72-1 56-8 23-7 21-10 19-14 12-12 14-19 11-21 9-23 8-31 9-63M3345 605l17-36 19-26M3221 696l5-280 5-24 4-7 6-5 15-6 39-4 64 0 88 6M3147 2665l10-79M3191 3125l-8-152M4131 3575l-34-54-28-57-18-53-13-63M1986 2928l15-95M1872 1912l-14-7-16-3-16 1-23 6M3173 3388l-20-224-1-72M3152 3092l3-71-2-56M2663 1078l-19-53-25-50-22-33-23-23-33-23-36-16-47-10-48-4M3424 1101l5-47 7-40M2356 2596l4-72M3229 1786l-5-80 5-96M3409 735l12-38 20-44 23-33 28-28M5163 2322l1 80-3 80M5161 2482l-5 72-8 72M1731 2752l8 3 8 0 22-9 12-10 14-19M3104 769l-10-55-11-47-12-38-17-36M3297 2256l4-64 2-48-3-103 1-96-5-120M5064 1718l36 122 29 125M5044 2121l9 71M2760 4259l86 17 95 14M3418 1784l-5-88-2-88 2-56 5-48M3238 440l9-23 10-12 21-10 32-7M3384 4084l-14-19-8-14-16-46M1977 2093l-32-73-28-48M5055 3224l-51 101M1411 2085l-16 94M2587 2741l-4-56 0-88M3155 518l-10-22-14-20-18-16-20-12M2800 3957l15-18 16-28 10-30 6-32M4609 3907l-101 79-72 51M3557 2865l2-80-3-56M4247 1549l26-40 26-31M3037 4391l88 6 88 2M4307 3794l-72 34" stroke="#bdbdbd" stroke-width="13.6"/>
<path d="M3182 2141l-9-191M1937 3787l70 53 78 56 68 43 76 45M2751 4177l95 15 119 12 72 4 56-3M3204 3422l-2-40-8-112-14-135-4-128-5-64M3162 2656l15-95M2838 4134l88 2 55-5 24-5 22-8 22-11 19-15 15-18 9-14 10-22 6-23 11-63 8-87M3151 2507l7-71 2-40-5-40-16-95-3-64M3145 1295l0-192 4-112-29-270M3101 627l-14-38-15-28-20-25-18-15-28-16-30-12-31-7-40-5M1796 1074l-60 75-65 91-55 88-55 98M3014 1941l-2-56-2-96-7-128 0-48M3003 1613l9-120 1-40-3-47-12-96M1693 1330l-72 116-66 128M2856 2785l9-47 6-48 9-103 3-56M2724 1018l-34-72-20-34-30-37-31-26-35-20-22-8-23-6-48-6-56 2M2725 2467l3-104-3-264 0-160M2725 1939l-2-96-10-128-4-79M2697 1827l-12-103-5-120M2669 1796l-7-56-5-63M2585 3440l12-63 4-32 5-152 12-103M1497 2914l45 128 27 67M2395 2755l-3-80 1-56 11-184 9-71M1819 1623l-38 41-35 44-32 46-29 48M2060 2257l-13-87-15-62M1622 2365l-5 72 1 80M1838 3081l28-14 30-27 29-38 11-21 9-22 15-54 19-95 5-55 3-64M1973 2275l-8-47-8-39-12-39-11-30-14-28-17-27-16-19-23-21M1890 2491l-2-72-5-56-9-47-13-38-16-36-18-27-18-15-15-8-15-4M1824 2689l9-47 6-47M1839 2595l2-72-7-64-5-23-10-30-13-30-13-20-10-13-18-14-16-5-8 1-14 6-12 11-12 21-10 22M3651 498l48 5 47 9 47 10 54 15 106 36 110 48M3301 2472l7-56 3-55M3290 3602l5-56 1-48M3370 1326l11-112 0-96 3-48 21-183M3315 3554l2-56-2-200 2-48 8-80M3331 2970l-5-87 0-88 11-216M3357 2116l-2-120 5-128M3347 3792l-6-55-1-56 9-176 1-184M3364 3050l-4-72-10-104 0-112M3780 4005l-32-3-31-7-23-8-21-11-20-14-17-16-15-19-12-21-9-22-7-23-34-173-9-63-6-72M3434 1510l10-71 3-40-10-184-2-64 1-40 4-40 7-39 25-109M3727 612l32-1 40 2 40 5 39 8M3878 626l39 9 46 14 53 19 52 21 100 49 89 54M3476 2347l4-80 10-95 1-40-4-48-16-111-1-136M3784 629l40 3 47 6M4057 3877l-64 7-32 0-23-4-31-10-21-11-19-15-16-18-13-19-15-29-23-51-14-37-18-62-33-148M3750 2682l7-71 5-112-9-208M3753 2291l-8-144 2-152M3772 1550l18-126 28-117 17-119 8-31 12-29M4041 996l31-8 24-3 32-1 32 2 31 5 31 8 38 13 37 16M4295 3760l-59 24-62 19-55 10-48 1M3804 2857l6-96 18-102 5-40 4-128 10-152M3847 2339l-1-48-7-79 0-40 7-88 12-103 9-128 2-72M3869 1781l1-48 3-40 11-79 9-88 11-54M3920 2731l4-88 6-88 5-144-4-208 2-56M4894 3003l-48 119-36 71-60 95-37 52-30 38M4374 3641l-57 28-46 15-24 4-24 1-23-2-16-3-29-13-19-15-11-11-49-64-24-42M3998 2349l0-112 5-144-4-144 1-32 6-40M4085 1494l27-84 29-66 26-40 16-18 19-15M4776 1652l32 56 25 50 37 80 23 59 17 54 14 54 34 164M4958 2169l10 64 6 55 6 168-1 48-4 64-14 119M4319 3612l-32 2-24-3-22-8-20-13-17-17-19-25-19-35-20-44M4245 2037l26-133 42-138 19-53 12-21 14-19M4358 1673l33-35 39-28 14-7 23-7 32-2 16 2 22 7 36 18 39 28 46 45M4658 1694l45 56 35 53M4115 2994l-8-56-3-56 1-56 9-143M4134 2994l-6-56-1-56 4-175 10-136M4196 1910l36-172 9-31 11-30 21-43 28-48 29-39 22-23M4156 3026l-6-80 1-64M4165 2459l8-112M4191 2092l23-134 50-202 16-53 25-51M4702 3076l-22 23-24 21-28 16-23 5-16 0-23-7-21-11-26-19-22-24-18-26-19-35-15-37-10-30-8-31-10-55-7-48M4604 2034l22-9 24-1 22 7 20 14 24 21 20 25 21 34 26 50M4800 2823l-17 45-17 36-20 35-22 33-20 25-23 22-21 12-15 4-8 1-16-4-22-10-25-19-17-17-15-19-16-28-23-60M4798 2455l3 63-1 56-6 48-10 55M4577 2321l18-44 29-48 22-23 13-10 14-7 8-1 16 2 14 7 13 10 26 30 17 27 11 21M4693 2136l14 8 13 10 16 18 14 19 29 48 22 51 12 39 7 39 5 72 3 72M4716 2320l16 18 15 28 10 30 7 31M4764 2427l7 40 4 40 1 40-1 31M3999 513l110 49 64 32 63 34 116 72 78 55M2769 1363l-11-88M2059 745l-56 45-61 52-59 54-56 56M2219 2467l-6-104 0-88M3733 4357l-110 23M4788 1518l72 134 41 87 42 112 35 123M4978 1974l14 63 13 71M4352 4060l-109 67-107 55-109 49-120 45M3907 4276l-99 31-93 25M2242 4202l23 6 23 9 111 44M5027 1535l50 126 26 76 22 77M5168 2001l10 63 10 80 10 127 2 72-1 80-8 128M5191 2551l-8 71-10 72-27 133-34 123-43 121M3284 1151l-2-56 1-40 21-127M3788 2114l5-176 8-112 2-96 12-135M3165 863l-6-96M3159 767l-5-95-5-40-7-40M1366 1776l-23 85-20 86M3198 1434l12-152-5-144M1264 2237l-5 120M3214 880l-5-88 2-120-1-120-3-48-5-31M3042 3052l-7-88-1-104M1989 3925l65 47 66 44M3922 777l56 3 71 13M4038 3348l-12-103-7-120-5-64M1478 3341l63 103 59 85M4187 3954l-86 44-80 34M3768 3105l-7-104 5-87M2966 3838l21-118 8-56M3130 4276l32-1 32-5 15-5 6-5M3112 3112l10-111-3-136 4-136M1418 3308l46 84 54 89M3398 535l26-19 28-14 31-10 39-7M2602 4162l116 29M3234 605l9-103 7-32 8-22M1634 2592l7 55 8 40M3718 2592l2-136-4-96M4056 1092l28-16 29-12 40-8 39-2M3124 2158l-13-144M4816 2838l-14 37-19 44M2978 474l-32-5-40-2M3494 585l26-18 30-13 30-8 40-6M3143 3874l6-88 3-56-7-128M3144 3498l1-104M5135 2016l13 79M1996 3873l119 82 61 38 62 36M4725 1481l43 68 60 104M4617 2325l19-26 17-16 20-13 15-5 8 0 15 5 13 10 16 18M1651 1535l-39 70-31 65M1848 1240l-46 55M4985 2087l15 103M4387 1582l19-14 14-8 23-8 23-4M5150 2139l8 79 5 104M2967 3345l8-120-2-47-5-64M3261 1933l-7-120M3172 2446l3-40 0-32-13-87M1906 2436l-2-56-4-40M3919 1133l18-26 26-31M3631 1529l-4-72 2-24 4-31M4262 3198l-22-69-11-54M3765 3308l-4-72-1-120M1394 2212l-7 72-4 88-1 64 1 72M1383 2508l8 119M1626 1166l-58 87-61 103M3363 3563l4-96 3-176 10-119M3271 720l7-64 9-55 12-46 16-37 19-26 24-20 29-14 31-9M2383 1910l-13-95M3768 1643l12-71M1740 2893l14 8 15 4 16-2 21-11M5218 2708l-13 71M1412 1442l-48 118M1797 2223l-23-8-16-1-15 5-12 10M2765 3362l9-79M3891 2959l-9-120M2164 2392l-3-144-4-48M2499 3271l14-191M2400 2114l-12-119M2720 3360l7-96M4252 1284l23-7 24-3 23 0 32 4M3341 3957l-14-144M1811 944l-81 89M1425 2512l6 96M2534 1689l-10-79M5266 2419l-3 96-5 80M3339 2884l-1-80M1763 3007l22 9 16 2 8-2 21-10 19-15M2441 3978l70 17M1506 2724l13 70M3859 2234l-2-48 3-48M2310 1153l-30-13-39-8-32-1-39 6M3852 2553l2-56 5-55M3310 3736l-2-56 3-48" stroke="#dedede" stroke-width="13.6"/>
<path d="M3093 4205l24-4 23-6 15-7 13-9 11-11 9-14 6-14 6-24M1791 3605l84 86 78 69M1953 3760l102 76 93 62 70 40 113 59M2331 3997l59 26 59 24 113 39M2562 4086l70 19 63 13 63 9 80 7M2905 481l-48-1-47 3-56 7-55 11-62 15-69 21-60 22-67 27M2441 586l-101 48-98 55-93 61-84 62M2065 812l-73 62-71 65-61 63-64 72M2903 755l-21-34-26-31-30-26-28-16M2883 2531l-2-120M2657 939l-23-33-28-28-26-19-36-17-39-10-48-4-47 2-48 6M2709 1636l-1-144-7-80-9-55-27-117-16-119-7-31-11-30M2436 3860l16-3 23-7 22-10 13-9 28-28 14-19 16-28 34-73 20-60 14-71 8-88M2655 3217l13-111 2-112 11-95 7-112M2625 1613l-5-79 1-104-5-48-14-54-60-157M2248 3783l63 11 32 1 24-1 23-4 23-9 20-12 12-11 20-25 25-41 61-121 12-30 6-23 16-78M1996 1424l-30 12-28 15-34 22-25 19-31 26-35 33-21 23-26 31M2310 2811l1-32-6-96 1-168 3-104 11-168M2320 2243l2-56-4-136M2282 2835l2-48-6-104 0-184 3-152M2281 2347l8-160-8-176-9-79M1553 2856l33 107 18 44 20 44M1616 2562l6 71 9 56 21 85 15 46M1653 2715l16 54 19 44 21 34 15 18 12 11 21 12 8 1 16-2 14-6 14-9 16-17M1886 2603l4-56 0-56M3234 2961l-5-56-7-136 0-72 5-40 40-228 5-48M3283 2109l-4-71-1-104-12-184M3325 2500l8-56 3-40-1-112 6-144 0-56M3341 2092l-1-64 2-72M3559 4146l-72-4-31-4-24-7-22-8-14-8-13-9-16-18-10-13-10-21-8-23-8-31-7-55-8-120M3325 3170l5-72 1-128M3673 3330l-4-48 1-96-4-80M3666 3106l-1-80 9-104 2-39-1-152-4-80M4354 1044l46 31 38 29 96 85 67 69 66 80M3933 2147l5-56 3-56M4607 1367l52 61 52 71 44 67 53 89M4683 3378l-43 47-62 62M4202 1271l28-14 31-8 32-3 40 4 46 12 38 14 35 18 40 26M4492 1320l45 34 36 32 34 34 32 36 30 37 33 45 74 114M4961 2687l-21 110-24 93-23 68-54 134M4146 3469l-18-45-15-45M4113 3379l-13-55-25-150M4037 2738l10-87 4-120 2-120M4117 1658l15-71 12-38 15-37 26-49M4206 2410l-1-72 9-144 8-55 23-102M4151 2882l1-184 11-143 2-96M4498 3389l-23 5-16 1-16-2-15-5-20-13-18-16-36-43M4410 2818l-8-88-16-223 4-112-2-160M4527 1882l20-12 23-9 15-3 16 0 16 2 15 5 21 12 19 14 23 23 21 24 24 32 27 40 20 34 14 29 25 68M4826 2141l26 84 18 69M4556 2512l1-32 5-40 14-62 11-39 16-36 17-28 20-24 19-15M4563 2637l-17-119 0-40 5-40M4828 2512l-1 48-4 47-10 64-11 55M4430 755l100 80 83 76 88 93 77 92M2805 1565l-1-104-8-160-3-32M1686 1117l-47 64-40 60M2479 1339l-42-96-18-35-22-34-29-28-40-26-22-10-23-7-23-4-24-1-48 6M3121 1254l1-80-3-176-5-48-15-103M2658 3959l37-15 14-9 17-16 18-27 18-44M3168 3644l-6-71-1-168-3-56M3158 3349l-6-64M4294 4148l-16 5-72 33M5125 1814l22 85 21 102M3278 1302l7-71-1-80M3304 928l4-47 3-104 5-56 12-63 17-53M3447 376l103 13 103 18 101 24 100 29M3854 460l128 46M2213 1210l-24-4-24 0-24 2-23 5M1609 3551l85 106 87 94 98 94 93 76M3202 473l-9-31-13-20-19-14-23-8-39-5-64-2-72 5-80 10M3034 2860l0-56 5-71M2491 3072l2-48-1-96 6-88M2120 4016l83 49 77 42 80 38 96 40M2468 939l-30-10-39-8-40-2-40 3M2217 1507l-32-46-32-36M4718 2945l-29 28-13 9-15 5-8 1-16-3-22-10-13-9-18-16-10-12-26-40-26-59-15-53M2318 3461l13-37 18-70M3153 2965l-5-80-2-136M4582 3905l-55 46M3711 2247l-8-96 0-48 4-96-5-72M2882 4422l32 1 191 13M3266 1267l2-56-5-95 0-40 6-48 17-95 4-47M1903 3798l93 75M2517 1572l-7-80-8-55-10-39-16-45M3008 4010l11-22 8-22 11-47 3-40 0-80 1-32 17-127M2419 1305l-16-36-15-29-17-26-16-18M4039 3826l-31-6-23-8-21-11-23-22-14-19-15-29-41-104M2592 3105l3-104 4-48M3147 4253l24-3 23-8 13-8 9-14M4113 2612l4-160M4076 2251l0-56-9-87M2510 613l-82 30M3901 2815l0-88M3473 3807l-5-56-6-104M1901 2612l4-72 1-104M3484 1362l-5-71-5-120M4001 3772l-17-17-14-20-36-80M3934 3655l-59-166-14-46M3528 2710l-3-56 0-96-4-64M1831 2283l-14-20-16-18-21-12-15-3M3360 1782l-1-80M2922 3670l11-87 5-136M4562 1350l40 39 43 48M3808 1272l5-48 6-39 8-31 12-30M2305 1582l-32-74-26-49-31-46-33-36-32-23-22-9-16-4-32-3-39 5M1639 2433l-1 72 4 72M3788 1345l6-32 4-39M2392 4093l74 31M3051 3553l17-127M4459 2535l1-48 6-47M4114 3277l-12-71M4551 2688l-6-72M3661 1672l13-79M3692 4256l-70 15M2479 990l-36-18-30-11M3716 3310l-1-40 2-80M3156 3976l5-80M4602 1478l49 52M2460 1588l-16-70M1174 2312l-1 152" stroke="#f5f5f5" stroke-width="13.6"/>
<path d="M3200 4116l7-63 0-160 8-112M3215 3781l1-72-11-103-3-48 0-56 2-80M1561 1426l-61 121-42 104-54 159-31 116M2903 1980l11-128-2-128 5-176M2639 3980l40-7 30-11 27-17 21-24 12-20 12-30 39-147M2820 3724l18-78 7-39 3-32 1-72M2791 1516l-1-64-10-144-4-32-15-86M2761 1190l-15-103-10-39-12-30M2631 1060l-17-37-20-34-19-26-17-17-25-19-29-15-30-11-31-8-31-4-32 0-32 2-40 8-38 11-37 14-86 43M1689 3352l36 53 48 64M1773 3469l36 43 39 41 46 43 61 53M1955 3649l57 43 87 58 48 28 58 28 59 24 69 20 55 10 24 1 24-1M2644 3464l10-95 0-104 1-48M2688 2787l0-48-7-168 5-168 0-112M2686 2291l-2-360-4-56-11-79M1727 3322l56 78 69 78 63 62 63 49M1978 3589l60 39 65 32 53 17 31 6 24 1 24-2 16-3 22-9 14-8 19-15 11-11 38-52M2355 3584l20-34 16-37 17-45 11-38 27-134 11-103M2413 2364l3-32 0-40-6-136M2289 1721l-36-106M2253 1615l-25-51-37-61-29-38-29-28-28-15-31-8-16-2-24 2-38 10M2318 2051l-2-71-18-119M2272 1932l-23-134M2249 1798l-6-31-9-31-27-75-16-37-19-35-21-34-20-25-17-17M2114 1513l-20-14-29-14-23-6-24-2-24 2-31 8-29 13-28 15-27 18-32 24-23 21-28 29-35 44-33 45-27 40-29 48M1672 1784l-26 49-23 51-20 53-25 76M1578 2013l-24 84-20 94M1534 2191l-13 71-13 87-6 48-2 48 1 64 5 79 6 56 13 79M1525 2723l14 79 14 54M1715 3006l38 42 31 24 15 8 15 4 24-3M1987 2691l-6-232M1981 2459l-4-136-4-48M1667 2820l28 57 27 39M1825 2855l14-19 11-22 18-52 10-56 8-103M3272 2381l4-96 7-104 0-72M3316 3825l-8-88-3-56 2-40 8-87M3876 4073l-86 20-86 16M3704 4109l-64 7-56 1-55-5-40-8-30-11-20-12-13-9-21-24-19-36M3386 4012l-10-30-7-31-22-159M3379 2667l5-112 10-104-4-191M3671 2651l-6-72-2-64 5-112 0-40-3-40-12-79-5-48M3620 1814l-2-32 2-32 18-102 8-64 1-40-2-72 3-40 8-47 30-116M3686 1269l44-170 22-69 19-53 13-29 16-28 14-19M3814 901l17-17 19-15 34-20 38-12 48-6M3970 831l40 0 55 7 47 10 38 13M3712 2683l-4-128 2-144M3710 2411l-5-80-18-135M3855 1128l19-35 28-40 19-25 23-22 19-15 28-16 30-11 23-5 32-4 40 0 32 4 39 9 38 12 44 18 43 21 42 25M3959 3866l-23-7-22-10-19-14-17-17-14-19-11-21-32-74-19-52-11-47-24-134-16-127M4839 3092l-23 51-31 56-34 54-38 51-41 50-32 35-64 61-48 42M3972 2627l8-104 0-216M3980 2307l1-112 6-112-5-144 6-55M4075 3174l-29-157M4046 3017l-12-87-3-48 0-80 6-64M4053 2411l9-200-9-127M4053 2084l-1-40 2-40 5-48 8-39M4067 1917l16-70 16-111 18-78M4185 1463l21-34 19-26 22-24 19-15 20-12 23-8 23-5 24-2 32 3 23 5 23 7 30 13 34 20 27 18 31 24 36 32M4513 3446l-35 19-38 13-32 2-15-1-16-4-21-12-24-21-26-31-26-39M4280 3372l-15-29-15-37-46-153M4204 3153l-13-63-7-87-2-48 2-88 0-88M4706 3231l-49 53-29 27-25 20-54 35-28 15-23 8M4388 2235l5-56 11-71 10-47 15-45 21-44 26-40 26-30 25-20M4441 2555l-2-40 1-32 11-79 10-104M4461 2300l8-39 16-54 19-52 13-29M4517 2126l17-27 20-25 23-23 27-17M4503 2879l-15-53-11-55-9-64-18-151M4744 2272l20 34 16 45 10 55 7 80 1 56-3 56-10 55-15 62M4770 2715l-13 38-17 36-16 28-15 18-13 9-16 4-23-5-21-12M4636 2831l-11-11-14-20-18-36-12-46-6-55M4575 2663l-5-48-11-71-3-32M4775 2578l-9 56-8 31-11 30-10 21-13 21-12 10-8 3-8 1-15-5-13-9-14-20-7-14-9-31-7-55M1827 952l-75 84-66 81M3122 1381l-2-71 1-56M2762 3848l37-123 24-109 4-40 2-88 4-56M2833 3432l13-111 20-118M2213 2275l-1-48-5-48M3082 849l-12-71M4206 4186l-117 53-119 47-122 40-115 31M5069 3071l-27 67-33 73M5009 3211l-40 78M2921 1076l-13-79M3787 2633l5-55 2-72-3-112 1-104-5-96 1-80M3815 1595l5-64M3161 1430l6-151-1-168 7-128-1-48-7-72M1357 1735l-33 115M1324 1850l-20 86-20 110-13 103-7 88M2349 1338l-16-28-19-26-32-35-32-24-22-10-15-5M4027 2688l6-104M2346 1154l-34-20-38-14-40-4-24 1-23 4-46 13-44 19-50 27-53 35M2216 1768l-11-38-23-60M2182 1670l-28-58-32-46M2122 1566l-28-28-27-17-30-11-32-4-31 4-31 9-36 18-40 25M2456 4185l82 30 100 30 108 28 94 19M2840 4292l103 16 103 11 104 5 40 0 24-3M3588 1730l11-87 4-48-2-48-9-87 2-48 9-47 32-116 14-63M3649 1186l12-79 12-46 51-152 10-22 15-27 15-19 17-17 19-15 21-11 23-9 23-6 23-4 32-2M2092 1431l-31-6-40 2M2939 2242l-15-191M2878 3505l3-56 9-95 19-135 2-88M2911 3131l-8-136 1-160M2904 2835l10-103 3-56M4380 1914l20-44 25-41 25-31 29-28M4479 1770l26-18 22-9 16-3 16 0 31 6M2818 4048l31-9 29-14 25-19 21-24 16-27 8-23 8-31 10-63M2757 4233l87 16 111 15 95 9 80 3M3880 1044l23-32 22-23 19-16 27-16 30-11 31-7 40-3 40 2M2718 4191l94 18M2812 4209l87 12 96 10M2995 4231l56 4 48 0 39-4 32-7 21-10 11-12 9-22 4-24M2349 3354l25-93 13-62M3719 2688l-1-96M3426 1820l-7-119M4210 2083l16-86M3139 752l-8-80-13-63-10-30-10-22-22-33M3076 524l-18-16-20-13-29-13-31-8M3527 2080l-9-96-1-64M3517 1920l4-96 7-79M4356 2498l1-72M1904 856l-64 60M3151 1913l-2-48 2-56M3310 3147l6-160-3-88M3145 3602l-1-104M3157 589l-7-31-11-30-11-22-15-18M3113 488l-18-16-21-12-30-11-31-6M3013 443l-40-3-48 0M2311 1064l-40-6-24 1-24 3M2856 3106l-8-144 2-72 3-48M3059 3640l22-158M3871 3627l-12-38-32-141M2437 1506l-33-132-16-45-17-37M3605 4180l-88 7-48 0-40-2-32-4-31-6-23-7-21-11-14-9-11-11-13-20-6-15-9-39-9-71M3260 3992l-4-72 5-136-3-80M4066 2387l10-136M4669 1531l73 105 54 89M2653 2333l0-232M1213 2748l15 87 22 110 5 31M1907 2042l-20-25-25-21-28-15-15-3-24 1-22 9-26 19-16 18M3010 2116l-7-104M3003 2012l-4-72M1584 1917l-22 69-19 69M3545 3927l-15-38-9-38-10-56-16-110M3484 3013l-6-96M5063 2306l3 104-2 112M2940 3342l9-79M3370 3768l-4-79 1-112M4483 1220l57 45M3608 3509l-7-111-14-95M2349 1932l-15-103-18-78M3684 2796l0-87M4704 2917l-20 14-15 4-8-1-16-4-14-7-13-9-18-16M3621 2392l2-88M2955 755l-24-51-22-33M3584 3142l-6-120 2-128M3416 4229l-56-2-48-6-31-8-21-11M3882 3715l-23-60-13-38-18-94M3824 1560l7-103 9-48M2660 675l-48-3-56 4M1749 2959l14 8 16 4 15-2 22-10M3557 4012l-18-16-16-18-16-28-13-29M3031 2269l-8-111M1541 2253l-17 111M3229 3184l-13-175M2520 3576l16-37 10-30 24-101M3805 3324l-6-104 0-96-12-119M1422 2218l-9 87M2090 1633l-30-27-20-13-15-7M3647 4407l-48 3-63 7M3901 4336l-32 4-62 14M3473 3351l-1-88" stroke="#ffffff" stroke-width="13.6"/>
</g></g></mask></defs>
<g id="flow" clip-path="url(#disc)">
<circle cx="805.5" cy="600.2" r="515.7" fill="#000"/>
<g mask="url(#lic)"><g filter="url(#smooth)">
<rect x="274" y="68" width="1063" height="1063" fill="#0000c8"/>
<path d="M831 1110l-24 1-24-1-24-2-28-4-24-4-24-6-52-17-40-16-24-12-24-13-20-13-20-13-21-16-19-16-16-15-16-17-15-16-12-16-15-20-15-24-12-20-10-20-11-24-18-48-9-24-7-23-5-17-3-20-3-20-1-24 0-24 1-28 2-24 4-28 5-24 6-28 6-20 8-21 8-20 12-26 16-30 12-20 16-24 14-19 16-20 18-20 16-16 23-20 21-16 16-12 40-25 40-19 21-8 23-8 48-13 32-7 32-4 24-3 24-2 20 1 28 2 52 8 32 7 27 7 25 7 22 9 19 8 27 13 40 23 16 11 20 16 36 32 16 16 16 18 16 21 13 18 15 23 12 21 12 24 13 28 9 20 8 24 6 20 4 20 5 24 4 28 3 24 1 24 0 28-1 24-3 24-3 20-5 20-7 20-25 68-9 20-10 20-10 18-13 22-14 20-13 17-15 19-13 14-16 16-20 18-36 27-20 14-20 12-44 23-40 16-32 10-24 7-24 6-20 3-24 4-24 2z" fill="#0008ce" fill-rule="evenodd"/>
<path d="M843 1106l-24 1-24 0-28-2-28-3-24-4-24-5-52-16-20-8-24-10-44-23-20-12-20-13-20-14-20-17-17-14-15-16-15-16-13-16-15-20-13-20-15-24-11-20-7-16-9-20-21-56-9-28-6-20-3-16-2-20-2-20 0-24 1-24 1-24 3-24 5-28 6-28 5-20 9-24 7-20 13-28 11-21 16-28 15-23 13-18 17-22 18-20 17-17 20-18 16-13 22-16 18-12 24-14 20-11 20-9 40-15 48-12 34-7 25-4 25-4 28-2 20 0 24 2 28 3 27 5 57 12 24 7 24 8 20 8 24 11 17 10 23 13 16 11 20 15 36 31 16 15 16 19 16 18 15 22 16 24 13 21 12 23 12 25 8 19 8 21 6 19 5 20 5 24 5 28 3 24 1 24 1 44-1 20-3 20-3 16-4 20-14 40-25 64-8 17-10 19-17 28-16 24-17 22-16 19-16 17-16 15-20 16-20 15-20 14-20 12-44 24-20 9-20 8-56 18-40 9-44 6z" fill="#0111d4" fill-rule="evenodd"/>
<path d="M851 1102l-24 2-20 0-24 0-24-3-24-3-24-4-24-6-24-7-28-9-20-8-24-10-24-13-24-13-23-14-21-16-20-15-16-14-16-15-15-16-14-16-12-16-14-20-17-28-12-20-15-32-24-64-9-24-6-20-3-16-2-16-2-20-1-24 0-24 2-24 3-24 5-32 5-24 6-24 7-20 10-26 12-26 12-23 14-25 14-22 13-18 16-20 17-20 16-16 18-17 20-17 20-15 17-11 23-14 20-11 20-9 16-6 24-9 44-12 62-11 30-4 24-2 20-1 20 1 24 3 28 4 35 7 29 6 24 6 24 8 20 8 24 11 20 10 20 12 16 10 17 13 19 15 19 17 16 16 17 17 16 20 14 19 13 20 13 20 16 29 11 23 9 20 7 20 7 20 5 20 5 24 5 28 5 44 1 44-3 40-3 16-3 16-12 36-28 72-15 32-15 25-20 31-15 20-17 20-15 16-17 16-18 16-18 13-20 15-20 12-44 24-20 10-20 8-54 18-38 9-44 7z" fill="#0119da" fill-rule="evenodd"/>
<path d="M855 1098l-24 2-20 1-20 0-24-2-24-3-24-4-24-5-24-7-32-11-20-7-20-9-24-11-24-14-24-14-24-16-20-16-16-14-16-15-15-15-14-16-12-16-14-20-18-28-11-20-15-32-32-84-6-20-4-16-3-16-1-16-2-24 0-24 2-24 2-24 4-28 6-28 6-24 6-20 9-24 11-24 12-24 13-24 15-24 13-19 16-21 16-19 16-17 16-15 20-17 21-16 18-12 19-12 22-12 17-8 19-8 20-8 20-6 20-5 68-13 48-6 20-1 20 0 26 3 26 3 28 4 41 9 23 5 24 7 20 7 20 9 20 9 20 11 20 12 16 12 36 29 16 15 16 16 16 17 17 23 14 20 13 20 16 27 12 23 16 38 7 20 6 20 6 24 5 28 4 24 2 24 2 44-3 40-2 16-3 14-11 34-29 76-15 32-14 24-20 32-15 20-16 19-16 18-16 15-18 16-18 13-20 14-20 13-42 24-22 10-20 8-52 18-40 10-40 6z" fill="#0121df" fill-rule="evenodd"/>
<path d="M819 1098l-20 0-24-2-28-3-24-3-20-5-20-5-56-18-20-9-20-9-27-14-21-13-20-13-20-14-16-12-19-16-27-28-14-16-12-16-14-20-17-28-17-32-7-16-27-68-11-32-4-16-3-16-2-20-2-24 1-24 1-24 2-20 4-26 5-26 5-24 6-20 8-22 10-22 11-24 15-26 16-27 13-19 15-20 16-19 16-18 16-15 20-17 20-16 16-11 20-12 20-11 20-10 17-7 19-7 20-6 40-9 68-12 24-2 28-2 20 0 21 2 47 5 72 14 24 7 20 6 20 9 20 9 20 11 20 12 16 10 20 16 20 17 16 14 16 17 16 18 14 19 14 19 16 25 15 28 13 24 9 20 8 20 6 20 10 40 5 28 3 24 3 24 1 24-1 24-1 24-3 20-4 16-10 32-33 84-8 16-9 17-29 47-23 30-24 26-16 15-16 14-36 27-20 12-20 12-28 15-20 9-36 14-36 11-24 7-40 7-24 3-24 2z" fill="#022ae5" fill-rule="evenodd"/>
<path d="M831 1094l-20 1-20-1-32-2-28-4-20-4-20-5-60-19-36-16-32-16-20-12-36-24-32-25-16-15-15-14-23-28-20-28-20-32-9-16-11-24-36-92-9-32-3-16-1-16-1-40 1-28 2-20 3-24 7-36 5-20 7-24 8-20 9-20 12-24 11-20 28-44 18-24 13-16 15-16 13-13 20-18 20-16 16-11 20-13 20-11 24-12 32-13 24-7 20-5 72-12 40-4 48-1 40 2 28 4 64 11 36 9 20 7 20 8 24 12 16 9 20 12 16 11 36 30 16 14 16 17 18 22 12 16 17 24 14 24 14 24 12 24 15 36 8 24 4 16 7 36 4 24 4 36 1 40-4 40-5 24-12 36-13 32-19 48-11 24-20 32-21 32-15 20-14 16-16 15-16 15-20 16-16 12-24 16-20 12-44 23-32 13-60 19-16 4-24 5-24 4-24 2z" fill="#0232eb" fill-rule="evenodd"/>
<path d="M847 1090l-40 2-40-2-28-4-20-3-20-5-20-6-52-17-36-16-28-15-24-14-24-16-20-14-16-13-16-15-15-14-14-16-13-16-10-15-29-45-9-16-7-16-19-48-13-32-10-28-6-24-3-20-2-20 0-24 1-24 2-20 3-24 10-52 9-32 8-20 7-16 19-36 27-46 24-33 12-14 16-18 16-15 16-14 36-28 32-20 16-9 20-9 32-12 36-9 72-12 36-4 24-1 36 0 36 2 24 3 56 8 36 8 22 7 21 8 21 9 20 10 20 12 16 11 24 18 20 17 16 15 16 16 16 19 12 16 16 24 16 26 15 27 12 24 9 20 7 20 6 20 5 24 6 28 3 24 4 44 0 20-1 24-2 20-4 16-5 20-7 19-16 39-14 38-7 16-11 20-12 20-18 28-14 20-13 16-15 16-16 16-20 16-20 16-20 13-20 13-25 14-23 12-24 10-20 8-36 12-20 6-20 4-24 5-24 3z" fill="#0545ec" fill-rule="evenodd"/>
<path d="M859 1086l-44 3-16 0-20-1-24-2-24-4-24-4-20-6-52-17-36-15-28-15-24-13-23-14-21-16-17-12-18-16-16-16-13-15-11-13-12-16-29-46-13-22-9-20-15-40-18-44-7-20-4-16-3-16-2-24 0-20 0-24 2-24 3-20 4-24 5-28 9-32 12-32 20-39 24-41 24-35 24-29 28-28 35-28 29-21 20-11 16-9 32-13 18-6 18-5 36-7 76-10 32-2 48 0 24 1 24 3 56 8 36 6 20 6 20 7 20 8 16 8 20 11 20 12 20 15 20 16 16 13 16 16 16 17 12 15 16 22 12 18 20 33 13 25 11 22 8 19 6 19 7 24 10 52 3 24 2 24 0 24 0 20-2 24-3 16-4 16-7 20-38 96-9 16-9 16-20 32-14 20-12 16-14 16-16 16-16 14-20 16-18 14-22 14-20 12-44 22-20 9-20 7-36 12-24 7-24 5-24 4z" fill="#0759ec" fill-rule="evenodd"/>
<path d="M831 1086l-20 1-20-1-24-1-28-4-20-4-20-4-52-17-20-7-20-8-44-23-36-22-36-26-16-14-16-14-12-14-13-14-20-28-30-48-14-28-17-44-15-36-9-24-6-24-3-20-1-20-1-20 1-24 2-24 3-20 5-28 5-24 10-32 13-32 19-36 27-45 24-34 24-27 28-27 36-28 16-11 16-10 20-10 16-8 32-12 32-8 32-6 52-6 24-2 20-1 60 0 32 1 76 10 36 7 20 6 18 7 18 7 20 10 18 11 18 12 24 17 20 17 16 14 16 17 16 19 12 15 16 24 16 26 16 28 12 24 8 19 7 20 6 20 6 28 4 24 4 24 3 44 0 20-2 24-2 16-4 16-11 32-16 40-15 40-7 16-11 20-25 40-11 16-12 16-14 16-16 16-20 18-20 16-20 14-24 15-48 27-20 9-20 8-60 19-20 5-20 4-44 5z" fill="#0a6ced" fill-rule="evenodd"/>
<path d="M847 1082l-40 2-20-1-20-1-24-3-20-4-20-4-20-6-48-16-20-7-17-8-30-16-21-13-24-15-20-14-20-16-16-14-12-13-14-15-21-28-31-48-10-20-8-16-15-40-20-48-10-32-2-16-2-20-1-20 0-24 2-24 3-20 9-48 8-32 12-31 16-33 24-41 24-36 24-30 13-13 15-15 28-23 20-15 16-11 32-18 32-14 16-5 20-6 36-6 76-9 28 0 68 0 20 0 72 8 36 6 16 4 20 6 16 6 20 9 20 11 20 12 20 14 20 16 16 14 16 15 15 17 13 14 16 22 16 25 16 26 15 29 9 17 8 20 6 19 6 21 10 51 2 20 2 24 1 24 0 20-3 24-2 16-5 16-7 20-18 44-14 36-6 16-16 28-22 36-14 20-13 16-15 17-15 15-17 14-20 16-20 14-20 12-24 14-28 14-20 10-20 7-36 12-20 6-20 5-24 4-24 4z" fill="#0c80ed" fill-rule="evenodd"/>
<path d="M855 1078l-40 3-16 0-20-1-24-2-24-4-20-4-20-5-52-17-17-6-19-9-29-15-23-13-24-15-20-15-20-16-16-13-12-12-15-16-21-28-30-48-10-18-9-18-15-40-20-48-9-28-3-12-2-16-1-20 0-20 2-44 7-40 9-40 10-32 15-32 20-36 24-38 20-28 24-27 28-26 36-28 16-10 16-10 18-9 18-8 16-7 20-6 20-5 20-3 76-8 28-1 92 0 24 2 48 5 36 5 20 5 16 5 16 5 16 7 20 10 16 10 20 12 20 15 16 13 18 16 14 14 16 18 15 20 13 17 20 32 16 28 12 24 8 19 5 16 6 20 6 24 5 28 3 20 2 24 1 24 0 20-2 24-2 16-4 16-7 20-20 48-14 36-6 16-13 23-26 41-10 16-13 16-14 16-13 13-16 15-20 15-20 15-22 14-22 13-44 22-20 8-20 8-32 10-24 7-24 4-24 4z" fill="#0f93ee" fill-rule="evenodd"/>
<path d="M831 1078l-20 1-20-1-24-2-28-3-20-4-20-5-48-15-20-7-20-8-44-23-36-22-36-26-29-25-11-12-14-16-17-24-33-53-12-24-18-47-17-40-8-20-5-20-3-16-1-20-1-20 1-20 2-24 3-20 9-48 9-32 11-28 18-35 24-40 20-29 24-30 27-26 29-24 32-22 32-18 32-14 19-6 17-5 36-5 72-7 24 0 40 0 40 0 24 0 68 6 36 6 18 5 18 5 16 7 17 8 19 9 16 11 24 16 20 15 16 14 16 15 14 16 13 16 14 20 19 28 16 27 13 25 9 20 7 16 6 20 6 24 5 24 4 24 2 20 1 24 1 20-2 24-1 16-4 16-11 32-17 40-15 40-6 16-10 17-29 47-19 26-15 18-16 16-17 15-20 16-20 14-23 15-49 26-20 10-20 8-56 18-20 5-20 3-44 6z" fill="#11a7ee" fill-rule="evenodd"/>
<path d="M843 1074l-20 1-20 1-40-3-24-3-20-4-20-4-20-6-44-15-17-7-19-10-28-14-24-14-24-16-20-14-16-14-16-14-13-12-14-16-17-24-33-52-8-16-7-16-14-36-20-48-6-16-4-16-3-12-2-16-1-20 0-20 3-40 8-44 9-36 10-31 16-33 20-34 24-37 20-26 24-26 28-25 36-26 28-17 19-9 17-8 16-6 16-4 20-5 20-3 72-6 24-1 44 1 40-1 24 0 68 6 32 4 20 4 16 5 16 5 16 7 20 10 16 9 20 13 20 15 16 12 16 14 16 16 12 14 14 19 14 19 20 31 16 28 11 22 7 16 6 16 7 24 5 24 5 28 3 20 2 24 1 24-1 20-2 20-3 16-4 16-6 16-18 44-14 36-7 17-12 22-28 45-12 17-12 15-16 18-16 15-18 15-21 16-21 13-23 15-25 13-24 12-20 9-53 18-19 5-20 5-20 3-24 3z" fill="#14baef" fill-rule="evenodd"/>
<path d="M855 1070l-24 2-20 1-36-1-44-6-20-4-20-5-48-16-18-7-18-9-31-15-21-13-24-15-20-14-16-12-17-14-15-16-12-13-21-27-32-52-7-12-8-16-17-44-18-44-9-28-5-24-2-16 0-20 2-40 5-36 9-40 11-36 12-28 16-29 24-38 20-29 24-28 24-23 32-25 20-14 16-10 16-8 18-8 18-8 16-5 20-5 24-4 72-6 28-1 48 1 56-1 68 5 36 5 16 3 16 4 32 12 20 9 16 9 20 13 20 14 16 12 16 14 16 15 12 14 16 20 12 17 20 31 16 27 17 33 6 16 6 20 6 24 5 24 4 24 3 24 1 24 0 20-1 20-4 20-4 16-5 16-20 48-21 52-9 17-40 63-12 16-14 16-14 13-16 14-20 16-20 14-23 15-21 11-40 21-20 8-21 8-31 10-20 5-24 5-24 4z" fill="#16ceef" fill-rule="evenodd"/>
<path d="M827 1070l-20 0-20 0-24-2-24-3-36-8-50-15-21-8-17-8-40-21-40-23-33-24-15-13-16-15-13-12-11-14-16-22-19-32-16-24-10-20-17-44-18-44-6-16-5-16-2-12-2-16-1-20 0-16 1-20 2-24 7-40 9-36 10-28 15-31 20-33 24-37 20-26 24-26 27-23 33-24 16-10 16-9 16-7 20-8 16-6 16-4 20-4 20-3 72-5 24-1 44 1 44-1 24 1 68 5 32 5 16 3 16 5 16 6 20 9 20 10 16 10 20 13 20 15 16 13 12 12 13 14 14 16 13 17 20 30 16 26 15 27 7 16 6 13 6 19 6 22 9 46 2 20 2 24 0 20-1 20-1 16-3 16-5 16-6 16-18 44-15 40-8 16-39 64-17 23-14 17-14 14-16 14-20 16-20 14-24 15-24 13-28 15-20 9-20 8-32 10-24 7-36 8-44 5z" fill="#19e1f0" fill-rule="evenodd"/>
<path d="M839 1066l-20 1-20 0-20-1-24-2-20-3-20-4-40-11-44-16-35-16-25-14-24-14-20-14-20-14-16-13-16-14-12-13-12-14-17-22-19-32-16-24-6-12-5-12-16-40-20-48-8-24-2-12-3-16-1-32 2-36 5-36 8-40 10-32 10-24 18-31 28-44 20-28 20-23 24-22 16-13 20-14 32-20 16-8 16-7 20-7 16-5 20-5 20-3 76-6 28-1 104 1 72 5 32 4 16 3 16 5 36 13 16 8 17 10 19 12 20 14 16 13 14 13 14 13 12 14 12 15 16 23 20 31 16 27 9 17 6 16 6 16 6 20 5 24 5 24 3 21 2 23 0 20 0 20-2 20-3 16-9 28-20 48-14 36-7 16-6 12-16 24-17 28-13 20-14 16-15 16-17 16-17 13-20 15-24 15-22 13-26 14-20 10-19 8-53 17-36 9-20 3-24 3z" fill="#1ae2e2" fill-rule="evenodd"/>
<path d="M851 1062l-40 3-20-1-20-1-24-3-20-3-36-9-48-16-16-7-20-9-48-26-24-16-20-14-16-12-17-14-12-12-15-16-18-24-21-36-14-20-6-12-5-12-14-36-22-52-8-24-4-24-2-32 1-36 5-36 8-37 10-35 10-23 16-28 28-44 20-28 20-23 24-23 16-12 20-15 32-19 28-14 36-12 20-5 20-3 76-7 32-1 96 0 76 5 32 4 16 3 16 4 36 13 16 8 16 8 16 10 20 14 30 24 14 13 12 12 12 15 12 16 20 29 20 32 16 31 7 16 6 20 6 24 5 24 4 22 2 22 1 24 0 20-2 20-2 16-5 16-5 16-21 48-13 36-7 16-6 12-14 20-16 28-11 16-12 16-15 16-14 13-16 14-20 15-20 14-24 15-23 13-21 11-20 9-20 8-28 9-20 7-20 5-20 3-24 4z" fill="#1ae2d5" fill-rule="evenodd"/>
<path d="M815 1062l-20-1-24-1-24-3-20-3-35-8-45-16-32-13-44-23-38-24-33-24-26-24-23-27-13-17-18-32-17-25-9-19-14-36-21-52-6-16-5-16-2-12-2-16 0-32 3-40 6-36 10-36 10-28 10-21 20-33 28-41 16-21 24-26 24-21 36-25 28-16 16-7 16-6 20-7 16-5 16-3 20-2 80-6 36-1 64 0 24 0 76 6 28 4 16 3 16 5 24 8 16 7 16 7 16 10 20 13 20 14 16 13 12 11 12 13 12 14 16 21 20 30 16 25 12 20 6 13 6 16 7 20 5 20 4 20 4 24 3 24 1 20 0 20-1 16-2 16-3 16-10 28-19 44-13 36-7 16-7 12-14 20-18 32-18 24-14 16-14 14-16 14-20 15-20 13-24 16-28 15-24 13-18 8-21 8-29 9-24 7-20 4-21 4-23 2-24 2z" fill="#1be3c7" fill-rule="evenodd"/>
<path d="M835 1058l-20 1-20 0-20-2-24-2-20-3-20-4-40-12-40-15-36-18-44-25-20-13-20-15-16-12-13-12-12-12-14-16-14-20-19-33-16-23-10-20-14-36-21-52-8-24-5-24-2-32 1-32 5-36 8-36 9-32 11-24 14-25 28-42 24-33 20-22 20-19 16-12 20-14 16-10 16-9 28-13 36-12 20-4 20-3 80-6 40-2 72 0 88 7 28 3 16 3 16 4 36 13 16 7 16 9 16 9 24 17 16 12 12 11 12 11 12 14 12 15 16 22 20 29 16 26 8 14 7 16 5 16 6 20 6 23 4 21 2 20 3 24 0 20-1 20-1 16-3 16-10 28-21 52-17 44-8 14-15 22-17 29-13 19-13 16-14 14-15 14-17 13-20 15-25 16-27 16-24 12-20 10-16 6-28 10-28 9-16 4-20 4-40 5z" fill="#1ce4b9" fill-rule="evenodd"/>
<path d="M847 1054l-40 2-40-2-24-3-20-4-36-9-48-16-32-15-45-25-23-16-20-13-16-13-16-14-12-12-12-13-18-23-21-36-14-20-5-8-5-12-14-36-20-48-8-24-6-24-2-28 1-30 3-34 6-32 9-32 10-27 12-23 20-31 32-45 20-24 20-19 24-19 24-16 16-10 28-14 28-10 32-8 32-5 88-7 28-1 48 0 40 2 88 8 32 6 36 11 16 7 16 8 16 9 20 13 28 21 12 11 14 15 14 15 12 16 24 34 16 24 9 15 7 14 5 14 7 18 6 22 5 24 3 20 3 24 1 20 0 20-2 20-3 16-3 12-6 18-22 54-17 44-7 12-14 20-16 28-11 16-12 16-15 16-14 13-16 13-20 15-22 15-22 13-25 15-19 9-20 9-20 8-29 10-19 5-20 5-40 6z" fill="#1ce4ac" fill-rule="evenodd"/>
<path d="M855 1050l-44 3-36-2-21-1-26-4-33-8-48-16-28-13-44-23-44-29-27-19-21-20-16-17-12-15-8-12-19-32-17-24-4-8-17-44-23-56-8-24-4-23-1-29 1-30 4-32 8-38 8-26 4-11 8-17 16-27 40-55 16-21 19-19 13-12 16-12 24-17 28-16 28-12 24-7 16-5 21-3 83-9 32-1 28-1 36 0 32 1 88 8 16 2 20 3 30 9 31 12 30 16 24 16 17 11 22 21 14 14 12 14 40 55 20 32 8 17 4 10 8 25 4 16 4 19 4 26 3 44-1 20-2 20-4 16-8 24-22 52-15 40-7 13-18 27-19 32-15 20-12 13-10 11-18 15-33 25-31 20-21 12-39 20-19 8-23 8-40 12-18 4-28 4z" fill="#1de59e" fill-rule="evenodd"/>
<path d="M859 1046l-40 3-36-1-24-2-20-2-20-4-16-4-46-14-34-15-20-10-24-13-44-28-25-18-23-20-18-20-18-24-19-32-17-24-4-8-6-12-11-32-23-56-8-25-4-23-1-28 1-28 4-32 8-37 8-27 12-26 16-26 36-49 20-25 20-21 24-19 28-19 28-16 24-10 32-10 16-3 20-4 92-8 52-3 28 1 28 1 92 8 36 6 32 9 28 11 16 8 16 9 32 22 15 12 12 12 13 13 16 19 40 54 16 26 8 16 5 12 6 20 5 20 5 24 3 20 2 24 0 20-1 20-2 20-4 16-7 20-22 52-15 40-6 12-17 24-20 34-14 18-14 16-12 12-13 12-16 12-19 13-24 16-25 15-39 20-19 8-21 7-24 8-20 5-20 5-20 3z" fill="#1ee690" fill-rule="evenodd"/>
<path d="M859 1042l-40 3-40-1-40-4-20-4-16-4-46-14-34-15-40-21-44-28-28-20-20-19-20-21-16-21-20-35-15-20-5-9-37-91-9-28-4-16-3-28 1-28 3-36 7-32 9-32 10-24 7-13 8-12 32-43 24-30 24-25 20-17 24-16 28-16 28-13 16-5 20-6 36-6 92-9 48-3 28 1 28 1 88 9 36 5 32 9 28 10 16 8 16 9 32 21 24 20 12 13 16 18 44 57 16 25 8 16 5 12 6 20 5 20 4 20 4 24 2 24 0 16-1 20-3 20-3 12-8 24-21 52-15 40-4 8-20 28-18 32-12 16-14 16-12 12-15 13-16 12-20 14-25 17-23 13-36 19-18 8-22 8-24 7-20 6-20 4-20 3z" fill="#1ee683" fill-rule="evenodd"/>
<path d="M859 1038l-40 3-36 0-40-4-20-4-16-3-44-14-35-14-38-20-39-25-28-19-24-20-20-20-19-24-5-9-16-27-17-24-4-8-33-80-9-28-6-20-3-24 0-28 4-40 5-28 9-32 10-26 13-22 27-35 32-39 24-25 20-17 24-16 28-16 24-10 16-6 16-4 20-5 20-3 92-10 48-3 24 1 28 1 88 9 36 6 20 4 16 5 28 11 32 17 28 18 24 20 16 17 16 18 44 56 14 22 11 24 6 20 5 20 4 20 3 24 2 24 0 16-1 20-2 16-6 20-8 24-32 81-6 11-17 24-14 24-7 11-12 16-12 14-15 15-14 12-15 12-20 13-28 18-21 13-35 18-20 8-20 7-40 12-20 4-20 3z" fill="#1fe775" fill-rule="evenodd"/>
<path d="M863 1034l-36 3-40 0-36-3-36-6-36-11-40-15-32-15-36-22-36-23-21-16-22-20-21-24-11-16-16-28-22-32-5-12-24-60-12-32-6-24-3-24 0-24 3-36 5-32 9-32 10-24 12-21 24-31 36-42 24-25 20-17 20-13 28-16 24-11 16-5 16-5 20-4 24-4 88-10 48-3 20 0 28 1 84 9 40 7 36 8 28 11 29 15 27 17 24 19 16 16 16 17 44 53 16 23 7 15 5 10 6 18 6 24 3 20 3 20 2 24 0 16-1 20-2 16-5 20-8 24-32 79-7 13-17 24-19 32-12 16-13 15-12 13-14 12-14 11-19 13-31 20-20 12-34 17-36 15-24 8-20 5-36 7z" fill="#20e867" fill-rule="evenodd"/>
<path d="M863 1030l-36 3-40 0-36-3-36-6-36-11-40-15-26-12-34-20-37-24-23-18-21-18-21-24-12-16-16-28-22-34-7-14-21-52-12-32-6-24-3-20-1-24 2-32 5-36 8-32 9-24 10-18 12-16 44-51 16-17 16-15 20-17 20-14 24-13 24-11 16-6 20-6 44-8 84-10 48-4 16 0 24 1 80 9 44 7 37 9 27 9 28 13 28 18 24 18 16 15 16 16 48 55 8 10 8 12 10 22 6 16 5 20 4 20 3 24 3 24 0 16-1 20-2 16-6 24-10 28-27 68-7 12-16 24-22 36-12 16-12 13-14 15-14 11-34 25-46 28-20 11-16 8-36 14-40 12-36 7z" fill="#20e85a" fill-rule="evenodd"/>
<path d="M863 1026l-36 3-32 0-48-3-24-4-31-8-45-16-26-12-35-20-30-20-29-21-22-19-22-24-12-17-14-23-26-40-8-17-20-47-8-24-8-31-4-25 0-20 4-48 4-23 4-17 4-14 8-20 8-14 16-20 44-48 25-24 18-16 17-12 20-13 32-15 23-8 15-4 38-9 24-3 67-8 49-4 16 0 38 4 66 7 25 5 39 8 26 8 11 4 17 8 22 11 13 9 11 8 15 12 17 15 20 20 48 52 12 17 8 16 8 22 4 16 4 22 4 31 1 17 0 24-2 20-3 16-12 40-24 58-8 16-23 34-13 24-8 12-16 19-12 13-14 12-14 11-12 9-36 24-20 12-29 16-18 8-21 8-38 12-17 4-25 4z" fill="#21e94c" fill-rule="evenodd"/>
<path d="M847 1022l-32 1-40-1-36-3-28-6-38-11-34-14-28-14-32-20-36-24-16-12-22-20-17-20-12-16-14-24-26-40-8-16-18-44-8-24-7-28-3-20 0-24 2-32 5-37 7-31 8-20 9-15 12-14 40-41 32-29 20-16 20-13 24-14 24-11 16-6 21-5 55-12 84-11 32-2 32 1 80 10 36 7 40 10 27 9 25 11 28 17 28 20 36 33 44 44 8 10 5 9 5 8 5 12 5 16 5 20 3 24 3 28 1 20 0 20-2 16-3 16-5 20-6 20-24 56-9 16-19 28-16 27-8 12-10 13-11 12-13 12-14 12-17 12-36 24-39 23-32 14-44 15-28 7-36 5z" fill="#22ea3e" fill-rule="evenodd"/>
<path d="M863 1014l-36 3-36 0-32-2-32-5-32-8-36-12-28-12-24-14-35-22-35-24-19-16-19-20-15-20-16-28-24-36-9-19-16-36-4-9-4-12-6-28-3-20-1-24 2-32 5-40 7-30 4-12 4-10 8-12 14-16 30-28 32-27 20-15 20-14 24-13 20-10 16-6 20-6 64-16 16-3 84-10 16-1 20 1 80 10 25 6 51 12 28 9 28 13 32 19 16 11 20 15 24 21 24 21 15 15 9 10 6 10 5 8 5 16 5 20 4 20 3 28 2 24 1 20-1 16-3 20-4 20-6 20-21 48-11 20-21 32-16 28-12 16-11 12-11 12-14 12-16 12-24 16-44 28-28 14-36 14-36 10-32 6z" fill="#22ea31" fill-rule="evenodd"/>
<path d="M843 1010l-32 1-36-1-32-3-28-5-32-10-32-12-23-10-27-16-42-29-20-15-19-16-17-19-13-17-40-64-10-20-14-32-7-20-4-24-3-24 0-20 4-48 5-32 6-26 4-10 3-8 9-12 16-16 28-24 32-24 16-11 20-12 24-12 20-9 16-6 20-6 60-15 20-3 80-11 12-1 16 1 76 11 20 4 52 12 28 9 32 13 36 19 16 10 24 17 20 16 20 17 13 13 11 11 6 9 3 8 7 20 4 19 3 25 4 40 1 16 0 16-2 16-3 20-3 16-4 12-20 44-11 20-41 64-9 12-11 12-12 11-12 11-55 38-19 12-18 10-32 14-40 13-30 7-34 4z" fill="#23eb23" fill-rule="evenodd"/>
<path d="M859 1002l-28 3-32 0-28-1-32-4-20-4-16-4-24-7-32-13-16-8-32-20-40-27-16-12-20-18-16-17-11-16-40-64-11-24-14-32-4-16-3-24-1-20 1-20 9-68 4-24 4-12 5-12 6-8 10-12 18-16 19-16 24-17 16-10 24-12 44-19 24-8 28-7 72-13 52-7 28-1 40 4 40 6 56 10 24 5 32 10 40 17 16 8 16 9 36 25 20 16 18 16 10 11 6 9 5 12 4 12 6 32 8 68 0 20-2 24-4 20-4 12-17 40-11 20-32 52-8 12-13 16-12 12-13 12-25 19-40 27-20 12-24 13-20 8-20 7-32 9-32 5z" fill="#31eb23" fill-rule="evenodd"/>
<path d="M855 998l-28 2-28 0-28-1-24-3-20-3-24-6-24-8-26-9-18-9-24-15-48-32-16-12-16-15-13-13-11-14-12-18-27-44-9-16-10-20-9-24-5-16-3-20-1-16 1-20 6-40 7-48 4-16 7-16 5-8 6-8 16-16 23-20 25-18 16-9 12-5 48-20 24-8 24-6 44-6 36-7 28-3 24-1 24-1 24 1 20 1 24 4 32 6 36 5 24 5 28 8 52 21 16 8 12 7 26 18 19 16 13 12 10 11 6 9 8 16 4 16 3 16 5 36 5 28 1 12 1 16 0 16-2 12-3 16-4 12-15 36-10 20-35 56-8 12-12 14-12 12-12 11-16 12-32 23-36 23-12 6-16 8-36 13-32 8-32 6z" fill="#3feb22" fill-rule="evenodd"/>
<path d="M851 994l-24 1-28 1-28-1-24-3-24-4-20-5-24-8-24-10-20-9-20-12-44-31-20-15-16-14-14-14-10-13-12-18-33-53-9-20-8-20-6-20-4-16-1-16 1-20 2-16 8-36 6-40 5-16 4-12 10-16 15-16 22-20 20-15 20-11 20-8 52-20 16-4 16-4 80-12 24-2 72-1 32 2 84 12 24 5 24 7 56 21 24 12 12 7 12 9 27 26 11 12 5 8 5 8 4 10 5 22 7 40 8 40 2 20-1 20-2 12-4 16-5 16-9 20-12 24-32 52-9 13-12 14-12 12-12 11-17 14-35 24-31 20-13 7-16 7-36 13-32 8-32 5z" fill="#4deb22" fill-rule="evenodd"/>
<path d="M847 990l-24 1-24 1-28-2-24-3-24-4-20-5-26-8-22-10-20-10-20-12-41-28-19-15-16-13-12-13-12-15-12-17-31-51-8-16-7-20-7-20-3-16-1-16 0-16 3-20 9-36 8-40 4-16 5-12 10-16 14-16 20-20 16-11 16-9 20-8 52-19 16-4 16-4 76-10 24-3 88 0 24 1 80 11 24 4 20 6 60 22 23 12 17 12 25 24 10 12 5 8 6 12 6 16 10 48 9 36 3 24 0 20-2 12-3 16-7 20-6 16-13 24-27 45-10 15-10 12-11 12-13 12-16 13-32 23-36 23-28 14-36 13-32 8-36 6z" fill="#5beb22" fill-rule="evenodd"/>
<path d="M839 986l-24 1-24 0-28-2-24-4-20-4-24-6-24-9-20-8-20-11-20-13-36-25-20-15-16-16-12-13-12-15-12-18-27-46-7-16-6-16-6-20-3-16-1-16 1-16 4-20 10-36 9-40 4-12 5-12 9-16 13-16 15-16 16-12 12-7 16-7 48-17 20-6 20-4 76-10 20-2 20 0 36 1 40-1 20 1 80 10 20 3 24 7 52 18 24 11 16 11 9 8 11 12 10 12 5 8 9 16 6 16 10 44 10 36 5 24 0 20-1 12-4 16-5 16-6 16-11 24-27 44-9 14-11 14-11 12-14 13-19 15-27 20-18 12-20 12-15 8-17 7-36 13-32 7-36 5z" fill="#69eb21" fill-rule="evenodd"/>
<path d="M831 982l-24 0-24 0-24-2-24-4-20-5-24-7-20-7-20-9-20-10-20-14-32-22-21-16-17-16-14-16-12-16-12-20-21-36-7-16-6-16-5-20-3-16-1-12 1-16 4-20 12-36 8-36 6-16 5-12 11-20 16-20 8-9 12-8 24-12 40-14 24-8 24-5 44-5 32-5 20-1 20 0 36 1 36-1 24 0 80 10 20 3 28 8 44 15 24 11 17 12 7 6 8 10 14 20 6 12 7 16 5 16 7 32 11 32 3 12 2 12 1 20-1 12-4 16-4 16-6 16-5 12-8 16-24 39-12 17-10 12-11 12-15 13-16 13-28 20-20 13-16 10-16 8-16 7-36 12-16 4-20 4-36 4z" fill="#77eb21" fill-rule="evenodd"/>
<path d="M815 978l-24-1-24-1-24-4-20-4-24-6-20-7-20-8-18-9-26-17-28-19-20-16-16-14-14-14-13-16-13-20-15-24-8-16-7-16-6-16-5-20-2-16-1-12 1-12 2-12 4-16 11-32 10-36 6-16 6-12 11-20 12-16 9-8 12-8 24-11 36-14 24-6 24-5 40-4 32-5 20-1 20-1 32 2 44-2 24 1 80 10 16 3 28 7 32 11 28 12 11 7 9 6 6 6 6 7 13 21 8 16 7 16 11 40 12 36 5 20 1 20-1 12-2 12-5 20-6 16-5 12-8 16-24 40-10 13-12 14-13 13-15 13-19 15-25 18-20 12-16 10-16 7-20 8-36 11-36 6-40 4z" fill="#85eb21" fill-rule="evenodd"/>
<path d="M851 970l-24 2-24 1-24-1-24-3-23-3-21-6-23-6-20-8-21-11-20-11-24-17-25-17-15-14-19-18-11-12-12-16-12-20-12-20-8-16-4-12-5-16-5-24-1-16 0-12 2-12 4-16 11-32 12-36 6-16 10-20 10-16 9-12 10-8 22-12 33-14 24-8 24-5 76-9 20-2 24-1 36 2 32-2 20 0 24 2 76 10 20 4 20 5 32 13 25 13 15 10 5 6 7 8 11 20 13 28 12 37 12 35 3 12 2 12 1 12 0 12-2 12-4 20-8 24-11 24-12 20-13 20-9 12-11 12-16 16-13 12-39 28-20 13-16 9-16 8-16 7-20 6-20 6-20 4-20 3z" fill="#93eb20" fill-rule="evenodd"/>
<path d="M847 966l-24 2-20 0-28-1-24-3-24-5-20-5-20-6-20-8-20-10-21-12-24-16-23-18-16-14-17-16-11-14-12-17-12-19-10-18-8-16-4-12-4-16-4-20-1-16 1-12 2-12 4-16 22-64 7-16 10-20 10-16 11-12 10-8 22-12 28-13 20-6 24-4 76-10 20-2 20-1 36 1 40-1 20 1 24 2 72 10 20 3 20 6 12 4 16 7 16 8 11 7 13 10 12 15 12 22 11 25 22 64 4 16 2 12 1 12-1 12-2 16-4 16-8 24-12 24-12 20-11 16-9 12-11 12-17 16-14 12-19 14-20 14-34 20-17 8-17 6-16 6-20 5-20 4-20 3z" fill="#a1eb20" fill-rule="evenodd"/>
<path d="M835 962l-24 1-20 0-24-2-24-3-20-5-20-5-20-7-20-8-20-11-24-15-20-14-21-15-17-16-15-16-13-16-13-20-10-16-8-16-6-16-4-12-3-16-2-16 0-16 1-12 3-16 5-16 21-56 9-20 9-16 9-12 11-12 12-9 29-15 15-7 20-5 24-5 68-9 24-2 20-1 72 0 28 1 24 3 72 9 24 5 16 5 28 14 20 12 13 12 12 16 13 24 8 20 21 60 4 16 2 12 1 12-1 12-3 16-3 16-9 24-15 28-13 20-10 13-12 14-13 13-15 13-16 12-20 15-20 12-16 9-16 8-32 12-20 6-16 3-20 4-20 2z" fill="#afeb20" fill-rule="evenodd"/>
<path d="M819 958l-24 0-24-2-24-3-20-4-24-6-20-7-20-9-18-9-26-16-23-16-17-14-19-18-13-14-12-16-15-22-11-20-6-16-5-16-4-16-1-16 0-16 1-12 4-16 5-16 21-56 10-20 11-16 10-12 12-11 14-9 22-12 16-6 28-6 76-11 36-3 76 0 32 1 24 2 68 10 24 4 20 6 20 11 16 9 13 11 11 11 9 13 11 19 9 21 20 56 5 24 2 20-1 12-3 16-4 16-4 12-5 12-9 16-18 28-9 12-11 12-16 16-14 12-15 12-19 13-20 12-16 9-16 7-15 7-33 10-16 3-20 3-36 4z" fill="#bdeb1f" fill-rule="evenodd"/>
<path d="M851 950l-20 2-24 1-24-1-24-2-20-4-22-4-22-7-20-8-20-10-21-11-23-16-20-14-16-14-17-16-13-16-11-16-11-16-8-16-7-16-5-16-3-16-2-16 0-12 2-16 4-16 7-20 15-40 10-20 11-18 11-14 13-12 12-8 24-15 16-5 24-5 72-11 32-3 40-1 48 0 36 2 20 2 72 11 20 4 12 4 8 4 15 9 17 12 16 14 12 16 8 13 6 13 19 48 8 24 3 12 1 12 1 12-1 12-4 24-3 12-5 12-12 24-21 31-11 13-9 9-15 15-13 11-32 22-32 19-16 8-16 6-16 6-20 5-16 4-20 3z" fill="#cbeb1f" fill-rule="evenodd"/>
<path d="M839 946l-24 1-24 0-24-2-20-3-24-4-20-6-20-7-20-9-20-11-24-15-20-14-17-14-17-16-14-16-12-16-12-20-9-16-6-16-4-12-3-16-1-16 0-12 2-16 4-16 7-20 14-36 8-16 8-14 11-14 12-12 15-12 18-12 12-6 20-6 80-13 16-2 36-2 40-1 52 2 32 3 81 13 17 4 11 4 23 13 20 16 13 15 14 20 11 24 18 48 6 24 2 20 0 12-2 12-2 12-4 12-10 24-15 24-11 16-8 10-12 13-14 13-14 12-16 12-32 20-28 14-16 7-16 5-19 6-17 3-32 5z" fill="#d9eb1f" fill-rule="evenodd"/>
<path d="M859 938l-24 2-24 1-24 0-24-2-20-3-24-5-18-5-22-8-17-8-22-12-25-16-16-12-16-14-16-16-13-14-12-16-11-19-8-16-4-9-5-16-3-14-1-14 0-16 2-16 6-20 8-24 12-28 9-17 11-15 10-12 14-12 16-12 17-10 8-3 12-3 88-15 24-2 56-3 48 2 32 2 16 2 20 4 52 9 16 4 8 3 16 8 20 15 16 15 12 16 12 20 16 37 9 27 3 16 2 12 0 20-3 20-3 12-4 12-12 24-16 24-9 12-11 12-12 12-14 12-27 20-33 20-26 12-20 7-16 5-16 4-20 4z" fill="#e7eb1e" fill-rule="evenodd"/>
<path d="M843 934l-20 1-28 0-20-1-20-2-20-3-20-5-20-7-20-8-20-9-24-14-20-14-16-12-16-15-15-15-13-16-10-16-9-16-8-16-5-16-2-12-1-12 0-16 1-12 4-16 6-20 11-28 7-16 7-12 11-15 12-12 16-14 16-11 16-8 16-5 52-9 24-5 12-1 80-5 60 3 24 3 32 6 44 7 16 4 12 5 8 5 12 7 20 16 15 17 11 16 11 20 15 40 6 24 2 12 0 12-1 20-2 12-4 12-11 24-14 23-9 13-10 12-12 12-13 12-26 20-30 18-28 14-28 10-32 9-32 5z" fill="#f5eb1e" fill-rule="evenodd"/>
<path d="M855 926l-20 2-20 1-28-1-24-1-16-2-20-5-24-6-16-6-20-9-19-9-20-12-17-13-16-12-16-15-12-13-12-15-10-16-9-16-7-16-4-12-2-12-1-16 0-12 3-16 5-20 8-24 8-20 7-12 10-15 12-13 12-11 16-12 16-10 8-3 12-4 16-4 72-12 80-6 76 6 80 14 16 4 12 5 16 9 20 16 16 15 12 15 6 10 6 12 13 36 6 24 2 12 1 12-1 20-5 20-8 20-12 21-16 23-20 21-24 20-28 19-28 16-28 12-32 10-32 6z" fill="#f6de1d" fill-rule="evenodd"/>
<path d="M835 922l-48 0-20-1-16-2-20-4-20-5-16-6-18-6-18-9-20-12-19-11-16-12-14-12-15-16-10-12-11-16-10-16-6-12-6-16-3-12-1-12 0-12 1-12 3-16 6-20 9-25 6-15 6-9 12-15 11-12 13-11 16-12 16-8 20-7 84-15 28-2 48-2 52 2 24 3 76 13 16 4 12 5 10 6 10 6 20 16 16 16 12 17 4 9 5 12 13 36 5 24 1 20-2 20-7 20-12 24-15 23-18 21-22 20-28 19-28 16-28 13-28 9-28 7-32 4z" fill="#f6d01b" fill-rule="evenodd"/>
<path d="M851 914l-16 1-20 1-32-1-20-1-32-6-20-5-16-5-16-6-20-10-20-11-16-11-15-10-14-12-12-12-11-14-8-11-10-15-8-16-5-12-4-12-2-12 0-12 1-12 3-16 5-18 8-23 8-19 8-12 8-10 12-12 12-10 20-14 8-4 12-5 20-5 64-11 28-3 48-3 20 1 40 1 28 3 64 12 16 4 12 4 16 8 17 12 15 12 16 18 6 10 5 8 11 28 8 28 2 12 2 12-1 20-4 16-8 20-13 24-16 21-20 20-23 19-25 16-28 15-28 11-32 9-28 5z" fill="#f7c31a" fill-rule="evenodd"/>
<path d="M859 906l-16 2-20 1-32 0-20-1-32-4-20-5-16-5-20-8-16-7-20-11-16-9-13-9-15-13-13-11-11-12-9-12-8-12-7-13-7-15-4-12-3-12 0-8 0-12 2-16 4-16 8-24 9-20 7-12 6-8 11-12 11-10 20-15 12-6 12-4 16-4 36-6 28-6 20-3 24-1 56 0 28 0 20 2 16 2 28 5 36 6 12 3 12 4 16 8 13 9 15 12 15 16 11 16 10 21 11 35 3 12 1 12 0 16-3 17-7 19-11 20-14 20-18 20-22 18-24 17-28 15-28 12-28 8-28 6z" fill="#f8b619" fill-rule="evenodd"/>
<path d="M835 902l-48 0-16-1-20-2-27-5-14-4-23-8-16-8-17-8-19-12-13-8-15-12-12-12-8-9-12-15-8-12-8-15-5-9-4-12-2-12-1-8 1-12 1-12 6-20 4-12 12-29 7-11 10-12 12-12 11-10 17-10 11-5 12-4 16-4 28-4 41-7 35-3 36 1 32-1 24 1 16 2 36 7 29 5 18 4 12 4 16 8 17 11 13 13 11 13 5 7 7 12 12 31 4 13 3 16 2 16-1 15-4 14-8 19-8 14-8 12-8 10-8 9-20 19-22 16-28 16-25 12-25 8-32 8-32 4z" fill="#f8a817" fill-rule="evenodd"/>
<path d="M827 894l-40 0-32-3-32-6-16-5-16-6-32-15-16-9-13-8-15-12-12-11-9-9-10-12-8-12-7-12-6-12-4-12-3-16 0-8 1-12 3-16 6-16 8-20 6-12 8-12 10-12 7-8 10-9 16-10 8-4 12-4 16-3 32-5 36-7 16-2 16 0 36 1 36-1 20 0 24 3 32 6 32 5 12 3 12 4 16 8 12 8 11 11 13 16 6 8 6 12 12 28 6 24 2 12 1 8-1 8-2 8-6 18-9 18-14 20-17 18-20 18-24 15-28 15-24 10-28 8-28 5-28 3z" fill="#f99b16" fill-rule="evenodd"/>
<path d="M859 882l-16 2-20 1-44-1-32-3-16-3-16-4-16-6-16-6-16-8-16-9-24-16-12-10-12-12-9-9-7-11-13-21-7-20-2-12 0-8 2-12 4-16 6-16 7-16 6-12 8-12 9-11 8-9 8-6 8-5 8-4 12-5 16-3 60-12 16-2 20-1 44 1 36-1 20 1 16 2 78 15 12 4 10 4 12 8 9 8 13 16 12 20 12 28 7 20 2 16 0 8-1 8-5 16-7 16-13 20-14 16-17 16-22 16-24 13-28 12-28 9-28 6z" fill="#fa8e15" fill-rule="evenodd"/>
<path d="M851 874l-36 2-40-1-28-3-28-7-16-5-16-6-16-7-16-9-24-16-20-19-9-9-7-11-6-9-6-12-4-12-2-8-1-16 1-12 4-12 4-12 9-20 13-22 8-10 7-8 13-10 16-6 16-4 60-12 16-2 20-2 80 0 20 1 20 3 72 14 12 4 11 6 6 4 8 8 13 16 12 20 12 28 5 20 1 16-1 12-6 16-8 16-13 18-16 16-20 16-20 13-24 12-24 9-24 7-28 5z" fill="#f98013" fill-rule="evenodd"/>
<path d="M831 866l-36 0-32-2-28-4-24-7-30-11-26-15-20-14-12-11-8-8-12-17-7-11-3-8-5-16-1-8 0-8 1-8 4-12 12-28 7-14 7-10 6-8 7-8 5-4 7-4 12-5 56-13 16-3 20-3 20-1 68 0 28 1 24 3 64 15 12 4 8 3 8 6 8 8 12 17 12 23 8 21 4 16 1 16-3 12-6 16-10 16-13 16-17 16-16 12-24 13-24 11-25 8-27 5-28 3z" fill="#f87212" fill-rule="evenodd"/>
<path d="M847 854l-32 1-32 0-28-3-24-4-24-7-28-12-20-11-12-8-9-8-15-16-12-18-4-8-4-10-3-16 1-8 2-12 6-16 6-12 8-14 12-16 8-7 12-7 12-4 28-8 20-7 8-2 24-3 56-3 52 3 36 4 13 4 19 6 28 8 12 5 8 6 12 13 11 18 9 17 6 19 1 8 1 8-2 12-4 12-6 13-12 16-14 15-15 12-19 12-24 11-20 7-21 6-27 4z" fill="#f76411" fill-rule="evenodd"/>
<path d="M839 838l-28 1-28-1-24-2-20-3-16-4-21-7-19-10-18-10-14-13-14-15-10-16-4-12-1-12 2-12 6-16 9-15 12-13 12-8 56-25 8-2 12-2 64-8 8 0 56 7 20 3 8 3 24 11 24 10 12 7 12 11 9 13 7 12 3 8 2 8 1 12-2 12-5 12-8 12-10 12-13 12-16 11-16 8-20 8-20 7-20 3-20 3z" fill="#f5560f" fill-rule="evenodd"/>
<path d="M835 818l-44 0-20-1-20-2-12-3-12-3-12-5-15-6-13-8-10-8-10-11-6-9-6-12-1-8 1-10 4-10 4-6 6-6 14-9 20-9 20-10 12-6 12-3 16-3 16 0 28 2 32-2 20 2 9 2 11 3 28 15 24 10 8 5 8 7 4 6 3 6 2 8 1 8-3 12-4 8-7 10-9 10-10 8-13 8-16 7-13 5-14 4-17 2-16 2z" fill="#f4480e" fill-rule="evenodd"/>
<path d="M827 786l-28 0-24-1-20-3-14-4-8-4-7-4-8-8-3-6-2-6 2-8 2-4 5-4 9-6 12-4 16-3 12-1 36 1 40-1 12 2 16 4 8 4 6 4 5 4 2 4 2 4 0 4-2 8-3 4-8 8-7 4-8 4-19 5-24 3z" fill="#f33a0d" fill-rule="evenodd"/>
</g></g>
<circle cx="805.5" cy="600.2" r="515.7" fill="url(#wall)"/>
</g>
<rect x="807.2" y="89.5" width="5.6" height="1028" fill="#f1f1f1"/>
<g id="topann" font-family='"Liberation Serif","DejaVu Serif",serif' fill="#000">
<text x="763.5" y="61.5" font-size="84" textLength="118" lengthAdjust="spacing">top</text>
<text x="691" y="1179.5" font-size="86" textLength="258" lengthAdjust="spacing">bottom</text>
<text x="286" y="905.5" font-size="84" textLength="48" lengthAdjust="spacingAndGlyphs">Z</text>
<text x="574" y="1158" font-size="90">Y</text>
<path d="M343.7 1144V930" stroke="#000" stroke-width="5"/>
<path d="M343.7 874.8L354.7 931.7H332.7Z"/>
<path d="M304.6 1104.4H517" stroke="#000" stroke-width="5"/>
<path d="M573.3 1104.4L515.9 1115.4V1093.4Z"/>
</g>
<defs><linearGradient id="cb" x1="0" y1="0" x2="0" y2="1"><stop offset="0" stop-color="#ff0000"/><stop offset="0.25" stop-color="#ffff00"/><stop offset="0.5" stop-color="#00ff00"/><stop offset="0.75" stop-color="#00ffff"/><stop offset="1" stop-color="#0000ff"/></linearGradient></defs>
<rect x="1436.8" y="580.6" width="55.8" height="506.4" fill="url(#cb)"/>
<path d="M1492.6 581.2H1514.5M1492.6 1087.8H1514.5" stroke="#222" stroke-width="3"/>
<g font-family='"DejaVu Serif","Liberation Serif",serif' fill="#333">
<text x="1512" y="600" font-size="70" textLength="113" lengthAdjust="spacing">3.5</text>
<text x="1512" y="1107.5" font-size="70" textLength="116" lengthAdjust="spacing">0.0</text>
<text transform="translate(1406 833.5) rotate(-90)" font-size="70" text-anchor="middle" textLength="261" lengthAdjust="spacing">velocity</text>
</g>
<g id="plot" font-family='"Liberation Serif","DejaVu Serif",serif' fill="#000">
<rect x="191.2" y="1364.4" width="1517.6" height="972.6" fill="none" stroke="#000" stroke-width="3.4"/>
<path d="M191.2 2207.3h30M1708.8 2207.3h-30M191.2 1948.0h30M1708.8 1948.0h-30M191.2 1688.6h30M1708.8 1688.6h-30M191.2 1429.2h30M1708.8 1429.2h-30" stroke="#000" stroke-width="4.8" fill="none"/>
<path d="M191.2 2272.2h15M1708.8 2272.2h-15M191.2 2142.5h15M1708.8 2142.5h-15M191.2 2077.6h15M1708.8 2077.6h-15M191.2 2012.8h15M1708.8 2012.8h-15M191.2 1883.1h15M1708.8 1883.1h-15M191.2 1818.3h15M1708.8 1818.3h-15M191.2 1753.4h15M1708.8 1753.4h-15M191.2 1623.8h15M1708.8 1623.8h-15M191.2 1558.9h15M1708.8 1558.9h-15M191.2 1494.1h15M1708.8 1494.1h-15" stroke="#000" stroke-width="2" fill="none"/>
<path d="M570.6 2337.0v-29M570.6 1364.4v29M950.0 2337.0v-29M950.0 1364.4v29M1329.4 2337.0v-29M1329.4 1364.4v29" stroke="#000" stroke-width="3" fill="none"/>
<text x="177" y="2233.8" font-size="78" text-anchor="end">0</text>
<text x="177" y="1974.5" font-size="78" text-anchor="end">20</text>
<text x="177" y="1715.1" font-size="78" text-anchor="end">40</text>
<text x="177" y="1455.7" font-size="78" text-anchor="end">60</text>
<text x="191.2" y="2404" font-size="78" text-anchor="middle">0</text>
<text x="570.6" y="2404" font-size="78" text-anchor="middle">1</text>
<text x="950.0" y="2404" font-size="78" text-anchor="middle">2</text>
<text x="1329.4" y="2404" font-size="78" text-anchor="middle">3</text>
<text x="1708.8" y="2404" font-size="78" text-anchor="middle">4</text>
<text x="950.5" y="2473" font-size="78" text-anchor="middle" textLength="416" lengthAdjust="spacing">peak velocity</text>
<text transform="translate(72 1838) rotate(-90)" font-size="78" text-anchor="middle" textLength="614" lengthAdjust="spacing">phase shift (degrees)</text>
<path d="M252.2 1744.1L304.4 1731.5L356.5 1718.9L408.7 1706.1L460.8 1693.2L513.0 1680.1L565.1 1667.0L617.3 1653.7L669.5 1640.4L721.6 1626.9L773.8 1613.2L825.9 1599.5L878.1 1585.7L930.3 1571.7L982.4 1557.6L1034.6 1543.4L1086.7 1529.1L1138.9 1514.6L1191.0 1500.0L1243.2 1485.4L1295.4 1470.6L1347.5 1455.7L1399.7 1440.6L1451.8 1425.5L1504.0 1410.2" stroke="#f00a0a" stroke-width="8.4" fill="none" stroke-linejoin="round"/>
<path d="M257.3 2287.0L310.9 2266.6L364.8 2225.3L419.2 2180.1L473.5 2134.6L526.7 2088.3L579.9 2043.9L632.3 1996.0L683.6 1955.9L732.9 1923.7L783.3 1882.1L831.2 1842.7L882.0 1804.5L932.6 1778.4L982.3 1742.1L1034.3 1715.7L1085.6 1683.2L1137.7 1663.6L1191.2 1638.8L1244.4 1622.7L1295.4 1607.1L1344.7 1598.7L1388.7 1593.8L1427.0 1591.1L1460.7 1591.8L1482.5 1598.7L1495.9 1611.0L1500.5 1628.2L1495.1 1650.0L1480.6 1676.8L1460.7 1706.6L1430.8 1736.5L1396.4 1765.2L1356.6 1792.7L1310.7 1816.8L1256.3 1832.2L1193.6 1845.2L1120.0 1845.4L1035.9 1854.6L939.1 1855.4L831.2 1854.6L711.9 1861.2L584.8 1870.0L449.8 1881.1L305.5 1893.0" stroke="#000" stroke-width="8.8" fill="none" stroke-linejoin="round"/>
<g><circle cx="257.3" cy="2287.0" r="21.1"/><circle cx="310.9" cy="2266.6" r="21.1"/><circle cx="364.8" cy="2225.3" r="21.1"/><circle cx="419.2" cy="2180.1" r="21.1"/><circle cx="473.5" cy="2134.6" r="21.1"/><circle cx="526.7" cy="2088.3" r="21.1"/><circle cx="579.9" cy="2043.9" r="21.1"/><circle cx="632.3" cy="1996.0" r="21.1"/><circle cx="683.6" cy="1955.9" r="21.1"/><circle cx="732.9" cy="1923.7" r="21.1"/><circle cx="783.3" cy="1882.1" r="21.1"/><circle cx="831.2" cy="1842.7" r="21.1"/><circle cx="882.0" cy="1804.5" r="21.1"/><circle cx="932.6" cy="1778.4" r="21.1"/><circle cx="982.3" cy="1742.1" r="21.1"/><circle cx="1034.3" cy="1715.7" r="21.1"/><circle cx="1085.6" cy="1683.2" r="21.1"/><circle cx="1137.7" cy="1663.6" r="21.1"/><circle cx="1191.2" cy="1638.8" r="21.1"/><circle cx="1244.4" cy="1622.7" r="21.1"/><circle cx="1295.4" cy="1607.1" r="21.1"/><circle cx="1344.7" cy="1598.7" r="21.1"/><circle cx="1388.7" cy="1593.8" r="21.1"/><circle cx="1427.0" cy="1591.1" r="21.1"/><circle cx="1460.7" cy="1591.8" r="21.1"/><circle cx="1482.5" cy="1598.7" r="21.1"/><circle cx="1495.9" cy="1611.0" r="21.1"/><circle cx="1500.5" cy="1628.2" r="21.1"/><circle cx="1495.1" cy="1650.0" r="21.1"/><circle cx="1480.6" cy="1676.8" r="21.1"/><circle cx="1460.7" cy="1706.6" r="21.1"/><circle cx="1430.8" cy="1736.5" r="21.1"/><circle cx="1396.4" cy="1765.2" r="21.1"/><circle cx="1356.6" cy="1792.7" r="21.1"/><circle cx="1310.7" cy="1816.8" r="21.1"/><circle cx="1256.3" cy="1832.2" r="21.1"/><circle cx="1193.6" cy="1845.2" r="21.1"/><circle cx="1120.0" cy="1845.4" r="21.1"/><circle cx="1035.9" cy="1854.6" r="21.1"/><circle cx="939.1" cy="1855.4" r="21.1"/><circle cx="831.2" cy="1854.6" r="21.1"/><circle cx="711.9" cy="1861.2" r="21.1"/><circle cx="584.8" cy="1870.0" r="21.1"/><circle cx="449.8" cy="1881.1" r="21.1"/><circle cx="305.5" cy="1893.0" r="21.1"/></g>
<text x="419" y="1812.5" font-size="86" textLength="264" lengthAdjust="spacing">bottom</text>
<text x="265" y="2099" font-size="86" textLength="118" lengthAdjust="spacing">top</text>
<path d="M409.6 1795.4L360.9 1830.1" stroke="#000" stroke-width="5.5" fill="none"/><path d="M315.3 1862.6L355.9 1819.6L369.2 1838.3Z" fill="#000"/>
<path d="M310.1 2102.0L277.8 2202.5" stroke="#000" stroke-width="5.5" fill="none"/><path d="M260.4 2256.8L267.7 2197.2L289.2 2204.1Z" fill="#000"/>
<rect x="961.4" y="1975.2" width="586" height="209.5" fill="#fff" stroke="#000" stroke-width="2"/>
<path d="M997.3 2030.4H1109.3" stroke="#000" stroke-width="8.4"/>
<circle cx="997.3" cy="2030.4" r="20.8"/><circle cx="1109.3" cy="2030.4" r="20.8"/>
<path d="M993.9 2122.3H1114.2" stroke="#f00a0a" stroke-width="8.4"/>
<text x="1144.5" y="2056" font-size="78" textLength="371" lengthAdjust="spacing">curved tube</text>
<text x="1147" y="2138.2" font-size="78" textLength="389" lengthAdjust="spacing">straight tube</text>
<text x="870.3" y="1286" font-size="46" font-weight="bold" text-anchor="middle" textLength="58" lengthAdjust="spacing">(a)</text>
<text x="870.3" y="2581" font-size="46" font-weight="bold" text-anchor="middle" textLength="60" lengthAdjust="spacing">(b)</text>
</g>
</svg>
</body></html>
